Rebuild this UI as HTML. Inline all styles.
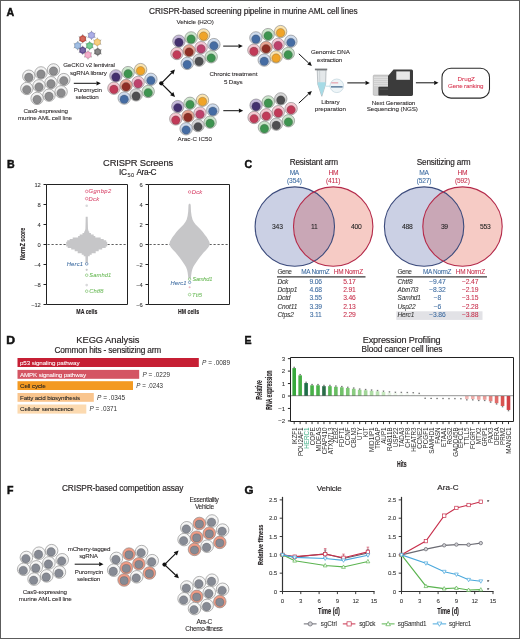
<!DOCTYPE html>
<html><head><meta charset="utf-8"><style>
html,body{margin:0;padding:0;background:#fff;}
body{width:520px;height:639px;overflow:hidden;position:relative;}
svg{position:absolute;left:0;top:0;will-change:transform;font-family:"Liberation Sans",sans-serif;}
</style></head><body>
<svg width="520" height="639" viewBox="0 0 520 639">
<rect x="0" y="0" width="520" height="639" fill="#fff"/>
<text x="6.5" y="15.8" font-size="10.6" fill="#111" font-weight="bold" textLength="7.66" lengthAdjust="spacingAndGlyphs" stroke="#111" stroke-width="0.45">A</text>
<text x="149" y="14" font-size="8.32" fill="#231f20" textLength="208.7" lengthAdjust="spacing" stroke="#231f20" stroke-width="0.15">CRISPR-based screening pipeline in murine AML cell lines</text>
<line x1="91.50" y1="35.30" x2="91.50" y2="30.70" stroke="#666" stroke-width="0.5"/>
<line x1="91.50" y1="35.30" x2="95.48" y2="33.00" stroke="#666" stroke-width="0.5"/>
<line x1="91.50" y1="35.30" x2="95.48" y2="37.60" stroke="#666" stroke-width="0.5"/>
<line x1="91.50" y1="35.30" x2="91.50" y2="39.90" stroke="#666" stroke-width="0.5"/>
<line x1="91.50" y1="35.30" x2="87.52" y2="37.60" stroke="#666" stroke-width="0.5"/>
<line x1="91.50" y1="35.30" x2="87.52" y2="33.00" stroke="#666" stroke-width="0.5"/>
<polygon points="94.70,37.15 91.50,39.00 88.30,37.15 88.30,33.45 91.50,31.60 94.70,33.45" fill="#9a9de0" stroke="#555" stroke-width="0.35" stroke-opacity="0.6"/>
<circle cx="91.50" cy="35.30" r="2.22" fill="#fff" fill-opacity="0.18"/>
<line x1="82.70" y1="38.80" x2="82.70" y2="34.20" stroke="#666" stroke-width="0.5"/>
<line x1="82.70" y1="38.80" x2="86.68" y2="36.50" stroke="#666" stroke-width="0.5"/>
<line x1="82.70" y1="38.80" x2="86.68" y2="41.10" stroke="#666" stroke-width="0.5"/>
<line x1="82.70" y1="38.80" x2="82.70" y2="43.40" stroke="#666" stroke-width="0.5"/>
<line x1="82.70" y1="38.80" x2="78.72" y2="41.10" stroke="#666" stroke-width="0.5"/>
<line x1="82.70" y1="38.80" x2="78.72" y2="36.50" stroke="#666" stroke-width="0.5"/>
<polygon points="85.90,40.65 82.70,42.50 79.50,40.65 79.50,36.95 82.70,35.10 85.90,36.95" fill="#c8483a" stroke="#555" stroke-width="0.35" stroke-opacity="0.6"/>
<circle cx="82.70" cy="38.80" r="2.22" fill="#fff" fill-opacity="0.18"/>
<line x1="97.30" y1="42.20" x2="97.30" y2="37.60" stroke="#666" stroke-width="0.5"/>
<line x1="97.30" y1="42.20" x2="101.28" y2="39.90" stroke="#666" stroke-width="0.5"/>
<line x1="97.30" y1="42.20" x2="101.28" y2="44.50" stroke="#666" stroke-width="0.5"/>
<line x1="97.30" y1="42.20" x2="97.30" y2="46.80" stroke="#666" stroke-width="0.5"/>
<line x1="97.30" y1="42.20" x2="93.32" y2="44.50" stroke="#666" stroke-width="0.5"/>
<line x1="97.30" y1="42.20" x2="93.32" y2="39.90" stroke="#666" stroke-width="0.5"/>
<polygon points="100.50,44.05 97.30,45.90 94.10,44.05 94.10,40.35 97.30,38.50 100.50,40.35" fill="#f5c466" stroke="#555" stroke-width="0.35" stroke-opacity="0.6"/>
<circle cx="97.30" cy="42.20" r="2.22" fill="#fff" fill-opacity="0.18"/>
<line x1="77.70" y1="45.70" x2="77.70" y2="41.10" stroke="#666" stroke-width="0.5"/>
<line x1="77.70" y1="45.70" x2="81.68" y2="43.40" stroke="#666" stroke-width="0.5"/>
<line x1="77.70" y1="45.70" x2="81.68" y2="48.00" stroke="#666" stroke-width="0.5"/>
<line x1="77.70" y1="45.70" x2="77.70" y2="50.30" stroke="#666" stroke-width="0.5"/>
<line x1="77.70" y1="45.70" x2="73.72" y2="48.00" stroke="#666" stroke-width="0.5"/>
<line x1="77.70" y1="45.70" x2="73.72" y2="43.40" stroke="#666" stroke-width="0.5"/>
<polygon points="80.90,47.55 77.70,49.40 74.50,47.55 74.50,43.85 77.70,42.00 80.90,43.85" fill="#8eb0dc" stroke="#555" stroke-width="0.35" stroke-opacity="0.6"/>
<circle cx="77.70" cy="45.70" r="2.22" fill="#fff" fill-opacity="0.18"/>
<line x1="89.60" y1="45.70" x2="89.60" y2="41.10" stroke="#666" stroke-width="0.5"/>
<line x1="89.60" y1="45.70" x2="93.58" y2="43.40" stroke="#666" stroke-width="0.5"/>
<line x1="89.60" y1="45.70" x2="93.58" y2="48.00" stroke="#666" stroke-width="0.5"/>
<line x1="89.60" y1="45.70" x2="89.60" y2="50.30" stroke="#666" stroke-width="0.5"/>
<line x1="89.60" y1="45.70" x2="85.62" y2="48.00" stroke="#666" stroke-width="0.5"/>
<line x1="89.60" y1="45.70" x2="85.62" y2="43.40" stroke="#666" stroke-width="0.5"/>
<polygon points="92.80,47.55 89.60,49.40 86.40,47.55 86.40,43.85 89.60,42.00 92.80,43.85" fill="#5cc07c" stroke="#555" stroke-width="0.35" stroke-opacity="0.6"/>
<circle cx="89.60" cy="45.70" r="2.22" fill="#fff" fill-opacity="0.18"/>
<line x1="97.70" y1="51.80" x2="97.70" y2="47.20" stroke="#666" stroke-width="0.5"/>
<line x1="97.70" y1="51.80" x2="101.68" y2="49.50" stroke="#666" stroke-width="0.5"/>
<line x1="97.70" y1="51.80" x2="101.68" y2="54.10" stroke="#666" stroke-width="0.5"/>
<line x1="97.70" y1="51.80" x2="97.70" y2="56.40" stroke="#666" stroke-width="0.5"/>
<line x1="97.70" y1="51.80" x2="93.72" y2="54.10" stroke="#666" stroke-width="0.5"/>
<line x1="97.70" y1="51.80" x2="93.72" y2="49.50" stroke="#666" stroke-width="0.5"/>
<polygon points="100.90,53.65 97.70,55.50 94.50,53.65 94.50,49.95 97.70,48.10 100.90,49.95" fill="#6e6e6e" stroke="#555" stroke-width="0.35" stroke-opacity="0.6"/>
<circle cx="97.70" cy="51.80" r="2.22" fill="#fff" fill-opacity="0.18"/>
<line x1="82.70" y1="50.30" x2="82.70" y2="45.70" stroke="#666" stroke-width="0.5"/>
<line x1="82.70" y1="50.30" x2="86.68" y2="48.00" stroke="#666" stroke-width="0.5"/>
<line x1="82.70" y1="50.30" x2="86.68" y2="52.60" stroke="#666" stroke-width="0.5"/>
<line x1="82.70" y1="50.30" x2="82.70" y2="54.90" stroke="#666" stroke-width="0.5"/>
<line x1="82.70" y1="50.30" x2="78.72" y2="52.60" stroke="#666" stroke-width="0.5"/>
<line x1="82.70" y1="50.30" x2="78.72" y2="48.00" stroke="#666" stroke-width="0.5"/>
<polygon points="85.90,52.15 82.70,54.00 79.50,52.15 79.50,48.45 82.70,46.60 85.90,48.45" fill="#5a4590" stroke="#555" stroke-width="0.35" stroke-opacity="0.6"/>
<circle cx="82.70" cy="50.30" r="2.22" fill="#fff" fill-opacity="0.18"/>
<line x1="88.00" y1="54.90" x2="88.00" y2="50.30" stroke="#666" stroke-width="0.5"/>
<line x1="88.00" y1="54.90" x2="91.98" y2="52.60" stroke="#666" stroke-width="0.5"/>
<line x1="88.00" y1="54.90" x2="91.98" y2="57.20" stroke="#666" stroke-width="0.5"/>
<line x1="88.00" y1="54.90" x2="88.00" y2="59.50" stroke="#666" stroke-width="0.5"/>
<line x1="88.00" y1="54.90" x2="84.02" y2="57.20" stroke="#666" stroke-width="0.5"/>
<line x1="88.00" y1="54.90" x2="84.02" y2="52.60" stroke="#666" stroke-width="0.5"/>
<polygon points="91.20,56.75 88.00,58.60 84.80,56.75 84.80,53.05 88.00,51.20 91.20,53.05" fill="#ef9ec0" stroke="#555" stroke-width="0.35" stroke-opacity="0.6"/>
<circle cx="88.00" cy="54.90" r="2.22" fill="#fff" fill-opacity="0.18"/>
<text x="63.3" y="67.4" font-size="6.24" fill="#231f20" textLength="51.6" lengthAdjust="spacing" stroke="#231f20" stroke-width="0.07">GeCKO v2 lentiviral</text>
<text x="70" y="74.6" font-size="6.24" fill="#231f20" textLength="36.8" lengthAdjust="spacing" stroke="#231f20" stroke-width="0.07">sgRNA library</text>
<circle cx="28.80" cy="76.20" r="6.2" fill="#f2f2f2" stroke="#808080" stroke-width="0.6"/>
<circle cx="28.80" cy="77.40" r="4.3" fill="#8c8c8e" stroke="#444" stroke-width="0.5" stroke-opacity="0.55"/>
<circle cx="41.00" cy="72.90" r="6.2" fill="#f2f2f2" stroke="#808080" stroke-width="0.6"/>
<circle cx="41.00" cy="74.10" r="4.3" fill="#8c8c8e" stroke="#444" stroke-width="0.5" stroke-opacity="0.55"/>
<circle cx="53.50" cy="69.90" r="6.2" fill="#f2f2f2" stroke="#808080" stroke-width="0.6"/>
<circle cx="53.50" cy="71.10" r="4.3" fill="#8c8c8e" stroke="#444" stroke-width="0.5" stroke-opacity="0.55"/>
<circle cx="63.80" cy="79.60" r="6.2" fill="#f2f2f2" stroke="#808080" stroke-width="0.6"/>
<circle cx="63.80" cy="80.80" r="4.3" fill="#8c8c8e" stroke="#444" stroke-width="0.5" stroke-opacity="0.55"/>
<circle cx="51.00" cy="82.70" r="6.2" fill="#f2f2f2" stroke="#808080" stroke-width="0.6"/>
<circle cx="51.00" cy="83.90" r="4.3" fill="#8c8c8e" stroke="#444" stroke-width="0.5" stroke-opacity="0.55"/>
<circle cx="39.00" cy="85.80" r="6.2" fill="#f2f2f2" stroke="#808080" stroke-width="0.6"/>
<circle cx="39.00" cy="87.00" r="4.3" fill="#8c8c8e" stroke="#444" stroke-width="0.5" stroke-opacity="0.55"/>
<circle cx="26.80" cy="88.50" r="6.2" fill="#f2f2f2" stroke="#808080" stroke-width="0.6"/>
<circle cx="26.80" cy="89.70" r="4.3" fill="#8c8c8e" stroke="#444" stroke-width="0.5" stroke-opacity="0.55"/>
<circle cx="61.10" cy="91.80" r="6.2" fill="#f2f2f2" stroke="#808080" stroke-width="0.6"/>
<circle cx="61.10" cy="93.00" r="4.3" fill="#8c8c8e" stroke="#444" stroke-width="0.5" stroke-opacity="0.55"/>
<circle cx="49.00" cy="95.20" r="6.2" fill="#f2f2f2" stroke="#808080" stroke-width="0.6"/>
<circle cx="49.00" cy="96.40" r="4.3" fill="#8c8c8e" stroke="#444" stroke-width="0.5" stroke-opacity="0.55"/>
<circle cx="37.10" cy="98.40" r="6.2" fill="#f2f2f2" stroke="#808080" stroke-width="0.6"/>
<circle cx="37.10" cy="99.60" r="4.3" fill="#8c8c8e" stroke="#444" stroke-width="0.5" stroke-opacity="0.55"/>
<text x="23.5" y="112.5" font-size="6.24" fill="#231f20" textLength="44.4" lengthAdjust="spacing" stroke="#231f20" stroke-width="0.07">Cas9-expressing</text>
<text x="18" y="119.8" font-size="6.24" fill="#231f20" textLength="54" lengthAdjust="spacing" stroke="#231f20" stroke-width="0.07">murine AML cell line</text>
<line x1="73.8" y1="83.3" x2="96.50" y2="83.30" stroke="#111" stroke-width="1.0"/>
<path d="M100.80,83.30 L96.50,85.40 L96.50,81.20Z" fill="#111"/>
<text x="73.8" y="91.6" font-size="6.24" fill="#231f20" textLength="28.2" lengthAdjust="spacing" stroke="#231f20" stroke-width="0.07">Puromycin</text>
<text x="75.5" y="98.6" font-size="6.24" fill="#231f20" textLength="23.2" lengthAdjust="spacing" stroke="#231f20" stroke-width="0.07">selection</text>
<circle cx="115.90" cy="75.90" r="6.2" fill="#c6b9da" stroke="#808080" stroke-width="0.6"/>
<circle cx="115.90" cy="77.10" r="4.3" fill="#44306f" stroke="#444" stroke-width="0.5" stroke-opacity="0.55"/>
<circle cx="128.10" cy="72.60" r="6.2" fill="#cce6cc" stroke="#808080" stroke-width="0.6"/>
<circle cx="128.10" cy="73.80" r="4.3" fill="#3e9450" stroke="#444" stroke-width="0.5" stroke-opacity="0.55"/>
<circle cx="140.60" cy="69.60" r="6.2" fill="#fbe4b0" stroke="#808080" stroke-width="0.6"/>
<circle cx="140.60" cy="70.80" r="4.3" fill="#f0a428" stroke="#444" stroke-width="0.5" stroke-opacity="0.55"/>
<circle cx="150.90" cy="79.30" r="6.2" fill="#cfdcee" stroke="#808080" stroke-width="0.6"/>
<circle cx="150.90" cy="80.50" r="4.3" fill="#456ca3" stroke="#444" stroke-width="0.5" stroke-opacity="0.55"/>
<circle cx="138.10" cy="82.40" r="6.2" fill="#f4c8d6" stroke="#808080" stroke-width="0.6"/>
<circle cx="138.10" cy="83.60" r="4.3" fill="#bd426c" stroke="#444" stroke-width="0.5" stroke-opacity="0.55"/>
<circle cx="126.10" cy="85.50" r="6.2" fill="#e8a594" stroke="#808080" stroke-width="0.6"/>
<circle cx="126.10" cy="86.70" r="4.3" fill="#8f2e25" stroke="#444" stroke-width="0.5" stroke-opacity="0.55"/>
<circle cx="113.90" cy="88.20" r="6.2" fill="#f5c9d2" stroke="#808080" stroke-width="0.6"/>
<circle cx="113.90" cy="89.40" r="4.3" fill="#c13a58" stroke="#444" stroke-width="0.5" stroke-opacity="0.55"/>
<circle cx="148.20" cy="91.50" r="6.2" fill="#cce6cc" stroke="#808080" stroke-width="0.6"/>
<circle cx="148.20" cy="92.70" r="4.3" fill="#3e9450" stroke="#444" stroke-width="0.5" stroke-opacity="0.55"/>
<circle cx="136.10" cy="94.90" r="6.2" fill="#d6d6d6" stroke="#808080" stroke-width="0.6"/>
<circle cx="136.10" cy="96.10" r="4.3" fill="#4e4e50" stroke="#444" stroke-width="0.5" stroke-opacity="0.55"/>
<circle cx="124.20" cy="98.10" r="6.2" fill="#cfdcee" stroke="#808080" stroke-width="0.6"/>
<circle cx="124.20" cy="99.30" r="4.3" fill="#456ca3" stroke="#444" stroke-width="0.5" stroke-opacity="0.55"/>
<circle cx="161.3" cy="83.3" r="2.1" fill="#111"/>
<line x1="161.3" y1="83.3" x2="171.76" y2="72.76" stroke="#111" stroke-width="1.15"/>
<path d="M175.00,69.50 L173.39,74.38 L170.13,71.14Z" fill="#111"/>
<line x1="161.3" y1="83.3" x2="171.75" y2="93.75" stroke="#111" stroke-width="1.15"/>
<path d="M175.00,97.00 L170.12,95.37 L173.37,92.12Z" fill="#111"/>
<text x="176.5" y="23.5" font-size="6.24" fill="#231f20" textLength="37.4" lengthAdjust="spacing" stroke="#231f20" stroke-width="0.07">Vehicle (H2O)</text>
<circle cx="178.90" cy="41.20" r="6.2" fill="#c6b9da" stroke="#808080" stroke-width="0.6"/>
<circle cx="178.90" cy="42.40" r="4.3" fill="#44306f" stroke="#444" stroke-width="0.5" stroke-opacity="0.55"/>
<circle cx="191.10" cy="37.90" r="6.2" fill="#cce6cc" stroke="#808080" stroke-width="0.6"/>
<circle cx="191.10" cy="39.10" r="4.3" fill="#3e9450" stroke="#444" stroke-width="0.5" stroke-opacity="0.55"/>
<circle cx="203.60" cy="34.90" r="6.2" fill="#fbe4b0" stroke="#808080" stroke-width="0.6"/>
<circle cx="203.60" cy="36.10" r="4.3" fill="#f0a428" stroke="#444" stroke-width="0.5" stroke-opacity="0.55"/>
<circle cx="213.90" cy="44.60" r="6.2" fill="#cfdcee" stroke="#808080" stroke-width="0.6"/>
<circle cx="213.90" cy="45.80" r="4.3" fill="#456ca3" stroke="#444" stroke-width="0.5" stroke-opacity="0.55"/>
<circle cx="201.10" cy="47.70" r="6.2" fill="#f4c8d6" stroke="#808080" stroke-width="0.6"/>
<circle cx="201.10" cy="48.90" r="4.3" fill="#bd426c" stroke="#444" stroke-width="0.5" stroke-opacity="0.55"/>
<circle cx="189.10" cy="50.80" r="6.2" fill="#e8a594" stroke="#808080" stroke-width="0.6"/>
<circle cx="189.10" cy="52.00" r="4.3" fill="#8f2e25" stroke="#444" stroke-width="0.5" stroke-opacity="0.55"/>
<circle cx="176.90" cy="53.50" r="6.2" fill="#f5c9d2" stroke="#808080" stroke-width="0.6"/>
<circle cx="176.90" cy="54.70" r="4.3" fill="#c13a58" stroke="#444" stroke-width="0.5" stroke-opacity="0.55"/>
<circle cx="211.20" cy="56.80" r="6.2" fill="#cce6cc" stroke="#808080" stroke-width="0.6"/>
<circle cx="211.20" cy="58.00" r="4.3" fill="#3e9450" stroke="#444" stroke-width="0.5" stroke-opacity="0.55"/>
<circle cx="199.10" cy="60.20" r="6.2" fill="#d6d6d6" stroke="#808080" stroke-width="0.6"/>
<circle cx="199.10" cy="61.40" r="4.3" fill="#4e4e50" stroke="#444" stroke-width="0.5" stroke-opacity="0.55"/>
<circle cx="187.20" cy="63.40" r="6.2" fill="#cfdcee" stroke="#808080" stroke-width="0.6"/>
<circle cx="187.20" cy="64.60" r="4.3" fill="#456ca3" stroke="#444" stroke-width="0.5" stroke-opacity="0.55"/>
<circle cx="177.80" cy="106.60" r="6.2" fill="#c6b9da" stroke="#808080" stroke-width="0.6"/>
<circle cx="177.80" cy="107.80" r="4.3" fill="#44306f" stroke="#444" stroke-width="0.5" stroke-opacity="0.55"/>
<circle cx="190.00" cy="103.30" r="6.2" fill="#cce6cc" stroke="#808080" stroke-width="0.6"/>
<circle cx="190.00" cy="104.50" r="4.3" fill="#3e9450" stroke="#444" stroke-width="0.5" stroke-opacity="0.55"/>
<circle cx="202.50" cy="100.30" r="6.2" fill="#fbe4b0" stroke="#808080" stroke-width="0.6"/>
<circle cx="202.50" cy="101.50" r="4.3" fill="#f0a428" stroke="#444" stroke-width="0.5" stroke-opacity="0.55"/>
<circle cx="212.80" cy="110.00" r="6.2" fill="#cfdcee" stroke="#808080" stroke-width="0.6"/>
<circle cx="212.80" cy="111.20" r="4.3" fill="#456ca3" stroke="#444" stroke-width="0.5" stroke-opacity="0.55"/>
<circle cx="200.00" cy="113.10" r="6.2" fill="#f4c8d6" stroke="#808080" stroke-width="0.6"/>
<circle cx="200.00" cy="114.30" r="4.3" fill="#bd426c" stroke="#444" stroke-width="0.5" stroke-opacity="0.55"/>
<circle cx="188.00" cy="116.20" r="6.2" fill="#e8a594" stroke="#808080" stroke-width="0.6"/>
<circle cx="188.00" cy="117.40" r="4.3" fill="#8f2e25" stroke="#444" stroke-width="0.5" stroke-opacity="0.55"/>
<circle cx="175.80" cy="118.90" r="6.2" fill="#f5c9d2" stroke="#808080" stroke-width="0.6"/>
<circle cx="175.80" cy="120.10" r="4.3" fill="#c13a58" stroke="#444" stroke-width="0.5" stroke-opacity="0.55"/>
<circle cx="210.10" cy="122.20" r="6.2" fill="#cce6cc" stroke="#808080" stroke-width="0.6"/>
<circle cx="210.10" cy="123.40" r="4.3" fill="#3e9450" stroke="#444" stroke-width="0.5" stroke-opacity="0.55"/>
<circle cx="198.00" cy="125.60" r="6.2" fill="#d6d6d6" stroke="#808080" stroke-width="0.6"/>
<circle cx="198.00" cy="126.80" r="4.3" fill="#4e4e50" stroke="#444" stroke-width="0.5" stroke-opacity="0.55"/>
<circle cx="186.10" cy="128.80" r="6.2" fill="#cfdcee" stroke="#808080" stroke-width="0.6"/>
<circle cx="186.10" cy="130.00" r="4.3" fill="#456ca3" stroke="#444" stroke-width="0.5" stroke-opacity="0.55"/>
<text x="177.5" y="141.3" font-size="6.24" fill="#231f20" textLength="34.5" lengthAdjust="spacing" stroke="#231f20" stroke-width="0.07">Arac-C IC50</text>
<line x1="223.2" y1="46.1" x2="238.50" y2="46.10" stroke="#111" stroke-width="1.0"/>
<path d="M242.80,46.10 L238.50,48.20 L238.50,44.00Z" fill="#111"/>
<line x1="223.3" y1="110.7" x2="238.90" y2="110.70" stroke="#111" stroke-width="1.0"/>
<path d="M243.20,110.70 L238.90,112.80 L238.90,108.60Z" fill="#111"/>
<text x="209.4" y="76.2" font-size="6.24" fill="#231f20" textLength="48" lengthAdjust="spacing" stroke="#231f20" stroke-width="0.07">Chronic treatment</text>
<text x="224" y="83.7" font-size="6.24" fill="#231f20" textLength="18.6" lengthAdjust="spacing" stroke="#231f20" stroke-width="0.07">5 Days</text>
<circle cx="255.90" cy="37.90" r="6.2" fill="#cfdcee" stroke="#808080" stroke-width="0.6"/>
<circle cx="255.90" cy="39.10" r="4.3" fill="#456ca3" stroke="#444" stroke-width="0.5" stroke-opacity="0.55"/>
<circle cx="268.10" cy="34.60" r="6.2" fill="#cce6cc" stroke="#808080" stroke-width="0.6"/>
<circle cx="268.10" cy="35.80" r="4.3" fill="#3e9450" stroke="#444" stroke-width="0.5" stroke-opacity="0.55"/>
<circle cx="280.60" cy="31.60" r="6.2" fill="#fbe4b0" stroke="#808080" stroke-width="0.6"/>
<circle cx="280.60" cy="32.80" r="4.3" fill="#f0a428" stroke="#444" stroke-width="0.5" stroke-opacity="0.55"/>
<circle cx="290.90" cy="41.30" r="6.2" fill="#cfdcee" stroke="#808080" stroke-width="0.6"/>
<circle cx="290.90" cy="42.50" r="4.3" fill="#456ca3" stroke="#444" stroke-width="0.5" stroke-opacity="0.55"/>
<circle cx="278.10" cy="44.40" r="6.2" fill="#f4c8d6" stroke="#808080" stroke-width="0.6"/>
<circle cx="278.10" cy="45.60" r="4.3" fill="#bd426c" stroke="#444" stroke-width="0.5" stroke-opacity="0.55"/>
<circle cx="266.10" cy="47.50" r="6.2" fill="#e8a594" stroke="#808080" stroke-width="0.6"/>
<circle cx="266.10" cy="48.70" r="4.3" fill="#8f2e25" stroke="#444" stroke-width="0.5" stroke-opacity="0.55"/>
<circle cx="253.90" cy="50.20" r="6.2" fill="#f5c9d2" stroke="#808080" stroke-width="0.6"/>
<circle cx="253.90" cy="51.40" r="4.3" fill="#c13a58" stroke="#444" stroke-width="0.5" stroke-opacity="0.55"/>
<circle cx="288.20" cy="53.50" r="6.2" fill="#cce6cc" stroke="#808080" stroke-width="0.6"/>
<circle cx="288.20" cy="54.70" r="4.3" fill="#3e9450" stroke="#444" stroke-width="0.5" stroke-opacity="0.55"/>
<circle cx="276.10" cy="56.90" r="6.2" fill="#fbe4b0" stroke="#808080" stroke-width="0.6"/>
<circle cx="276.10" cy="58.10" r="4.3" fill="#f0a428" stroke="#444" stroke-width="0.5" stroke-opacity="0.55"/>
<circle cx="264.20" cy="60.10" r="6.2" fill="#cfdcee" stroke="#808080" stroke-width="0.6"/>
<circle cx="264.20" cy="61.30" r="4.3" fill="#456ca3" stroke="#444" stroke-width="0.5" stroke-opacity="0.55"/>
<circle cx="256.10" cy="105.20" r="6.2" fill="#c6b9da" stroke="#808080" stroke-width="0.6"/>
<circle cx="256.10" cy="106.40" r="4.3" fill="#44306f" stroke="#444" stroke-width="0.5" stroke-opacity="0.55"/>
<circle cx="268.30" cy="101.90" r="6.2" fill="#cce6cc" stroke="#808080" stroke-width="0.6"/>
<circle cx="268.30" cy="103.10" r="4.3" fill="#3e9450" stroke="#444" stroke-width="0.5" stroke-opacity="0.55"/>
<circle cx="280.80" cy="98.90" r="6.2" fill="#d6d6d6" stroke="#808080" stroke-width="0.6"/>
<circle cx="280.80" cy="100.10" r="4.3" fill="#4e4e50" stroke="#444" stroke-width="0.5" stroke-opacity="0.55"/>
<circle cx="291.10" cy="108.60" r="6.2" fill="#f5c9d2" stroke="#808080" stroke-width="0.6"/>
<circle cx="291.10" cy="109.80" r="4.3" fill="#c13a58" stroke="#444" stroke-width="0.5" stroke-opacity="0.55"/>
<circle cx="278.30" cy="111.70" r="6.2" fill="#f5c9d2" stroke="#808080" stroke-width="0.6"/>
<circle cx="278.30" cy="112.90" r="4.3" fill="#c13a58" stroke="#444" stroke-width="0.5" stroke-opacity="0.55"/>
<circle cx="266.30" cy="114.80" r="6.2" fill="#f5c9d2" stroke="#808080" stroke-width="0.6"/>
<circle cx="266.30" cy="116.00" r="4.3" fill="#c13a58" stroke="#444" stroke-width="0.5" stroke-opacity="0.55"/>
<circle cx="254.10" cy="117.50" r="6.2" fill="#f5c9d2" stroke="#808080" stroke-width="0.6"/>
<circle cx="254.10" cy="118.70" r="4.3" fill="#c13a58" stroke="#444" stroke-width="0.5" stroke-opacity="0.55"/>
<circle cx="288.40" cy="120.80" r="6.2" fill="#cce6cc" stroke="#808080" stroke-width="0.6"/>
<circle cx="288.40" cy="122.00" r="4.3" fill="#3e9450" stroke="#444" stroke-width="0.5" stroke-opacity="0.55"/>
<circle cx="276.30" cy="124.20" r="6.2" fill="#d6d6d6" stroke="#808080" stroke-width="0.6"/>
<circle cx="276.30" cy="125.40" r="4.3" fill="#4e4e50" stroke="#444" stroke-width="0.5" stroke-opacity="0.55"/>
<circle cx="264.40" cy="127.40" r="6.2" fill="#cce6cc" stroke="#808080" stroke-width="0.6"/>
<circle cx="264.40" cy="128.60" r="4.3" fill="#3e9450" stroke="#444" stroke-width="0.5" stroke-opacity="0.55"/>
<line x1="298.8" y1="53.8" x2="308.66" y2="63.06" stroke="#111" stroke-width="1.0"/>
<path d="M311.80,66.00 L307.23,64.59 L310.10,61.53Z" fill="#111"/>
<line x1="298.8" y1="103.1" x2="308.65" y2="93.93" stroke="#111" stroke-width="1.0"/>
<path d="M311.80,91.00 L310.08,95.47 L307.22,92.39Z" fill="#111"/>
<text x="311" y="54.2" font-size="6.24" fill="#231f20" textLength="38.9" lengthAdjust="spacing" stroke="#231f20" stroke-width="0.07">Genomic DNA</text>
<text x="317" y="61.6" font-size="6.24" fill="#231f20" textLength="25.1" lengthAdjust="spacing" stroke="#231f20" stroke-width="0.07">extraction</text>
<path d="M317.2,70 L326.1,70 L325.6,84.3 L321.8,96.3 L317.8,84.3 Z" fill="#e4e8ea" stroke="#8e979c" stroke-width="0.55"/>
<line x1="319.6" y1="71" x2="319.8" y2="84" stroke="#b5bcc0" stroke-width="0.5"/>
<path d="M317.75,82.2 L325.65,82.2 L325.6,84.3 L321.8,96.0 L317.8,84.3 Z" fill="#a6dbe6"/>
<rect x="314.9" y="68.6" width="12.3" height="1.7" fill="#77797b"/>
<line x1="325.8" y1="86.2" x2="330.2" y2="86.2" stroke="#b0d6e2" stroke-width="0.8"/>
<circle cx="336.8" cy="85.8" r="6.8" fill="#eef5f8" stroke="#b6ccd6" stroke-width="0.6"/>
<rect x="331.2" y="82.3" width="7" height="1.1" fill="#e59aa6"/>
<rect x="331.0" y="86.1" width="11.6" height="1.5" fill="#5d7e9e"/>
<text x="321.3" y="104.4" font-size="6.24" fill="#231f20" textLength="18.2" lengthAdjust="spacing" stroke="#231f20" stroke-width="0.07">Library</text>
<text x="314.8" y="111.3" font-size="6.24" fill="#231f20" textLength="31.1" lengthAdjust="spacing" stroke="#231f20" stroke-width="0.07">preparation</text>
<line x1="347.3" y1="82.9" x2="365.50" y2="82.90" stroke="#111" stroke-width="1.0"/>
<path d="M369.80,82.90 L365.50,85.00 L365.50,80.80Z" fill="#111"/>
<rect x="373.2" y="75" width="19.8" height="20.4" rx="1.2" fill="#cfcfcf" stroke="#9a9a9a" stroke-width="0.4"/>
<line x1="374" y1="77.5" x2="392" y2="77.5" stroke="#e8e8e8" stroke-width="0.6"/>
<line x1="374" y1="79.5" x2="392" y2="79.5" stroke="#e8e8e8" stroke-width="0.6"/>
<line x1="374" y1="81.5" x2="392" y2="81.5" stroke="#e8e8e8" stroke-width="0.6"/>
<line x1="374" y1="83.5" x2="392" y2="83.5" stroke="#e8e8e8" stroke-width="0.6"/>
<line x1="374" y1="85.5" x2="392" y2="85.5" stroke="#e8e8e8" stroke-width="0.6"/>
<rect x="378.4" y="86.8" width="12" height="8.8" rx="0.8" fill="#3b3b3b"/>
<rect x="380" y="88.6" width="9" height="1" fill="#555"/>
<path d="M388,76 L393.5,69.5 L411.5,69.5 Q413,69.5 413,71 L413,94.6 Q413,96 411.5,96 L389,96 Q388,96 388,95 Z" fill="#3b3b3b"/>
<rect x="396.3" y="71.4" width="13.6" height="8.4" fill="#e6e6e6"/>
<text x="371.8" y="104.8" font-size="6.24" fill="#231f20" textLength="43.4" lengthAdjust="spacing" stroke="#231f20" stroke-width="0.07">Next Generation</text>
<text x="366.7" y="110.9" font-size="6.24" fill="#231f20" textLength="51.2" lengthAdjust="spacing" stroke="#231f20" stroke-width="0.07">Sequencing (NGS)</text>
<line x1="415.9" y1="82.8" x2="434.20" y2="82.80" stroke="#111" stroke-width="1.0"/>
<path d="M438.50,82.80 L434.20,84.90 L434.20,80.70Z" fill="#111"/>
<rect x="442" y="68.3" width="47.5" height="29.8" rx="9" fill="#fff" stroke="#2a2a2a" stroke-width="1.05"/>
<text x="457.6" y="81" font-size="6.24" fill="#d8344f" textLength="17.3" lengthAdjust="spacing" stroke="#d8344f" stroke-width="0.07">DrugZ</text>
<text x="448" y="87.9" font-size="6.24" fill="#d8344f" textLength="35.5" lengthAdjust="spacing" stroke="#d8344f" stroke-width="0.07">Gene ranking</text>
<text x="6.9" y="167.9" font-size="10.6" fill="#111" font-weight="bold" textLength="7.66" lengthAdjust="spacingAndGlyphs" stroke="#111" stroke-width="0.45">B</text>
<text x="103.1" y="165.8" font-size="9.36" fill="#231f20" textLength="70" lengthAdjust="spacing" stroke="#231f20" stroke-width="0.15">CRISPR Screens</text>
<text x="119.0" y="175.1" font-size="8.32" fill="#231f20" textLength="8.0" lengthAdjust="spacing" stroke="#231f20" stroke-width="0.15">IC</text>
<text x="127.4" y="176.9" font-size="5.62" fill="#231f20" textLength="6.6" lengthAdjust="spacing" stroke="#231f20" stroke-width="0.07">50</text>
<text x="136.4" y="175.1" font-size="8.32" fill="#231f20" textLength="20.2" lengthAdjust="spacing" stroke="#231f20" stroke-width="0.15">Ara-C</text>
<path d="M46.5,184.5 L127.5,184.5 L127.5,304.5 L46.5,304.5 Z" fill="none" stroke="#222" stroke-width="1"/>
<line x1="47.5" y1="244.5" x2="126.5" y2="244.5" stroke="#333" stroke-width="0.8" stroke-dasharray="2.2,1.8"/>
<line x1="43.5" y1="184.50" x2="46.5" y2="184.50" stroke="#222" stroke-width="1"/>
<text x="40.7" y="186.5" font-size="5.82" fill="#333" text-anchor="end" textLength="6.23" lengthAdjust="spacing" stroke="#333" stroke-width="0.07">12</text>
<line x1="43.5" y1="204.50" x2="46.5" y2="204.50" stroke="#222" stroke-width="1"/>
<text x="40.7" y="206.5" font-size="5.82" fill="#333" text-anchor="end" textLength="3.11" lengthAdjust="spacing" stroke="#333" stroke-width="0.07">8</text>
<line x1="43.5" y1="224.50" x2="46.5" y2="224.50" stroke="#222" stroke-width="1"/>
<text x="40.7" y="226.5" font-size="5.82" fill="#333" text-anchor="end" textLength="3.11" lengthAdjust="spacing" stroke="#333" stroke-width="0.07">4</text>
<line x1="43.5" y1="244.50" x2="46.5" y2="244.50" stroke="#222" stroke-width="1"/>
<text x="40.7" y="246.5" font-size="5.82" fill="#333" text-anchor="end" textLength="3.11" lengthAdjust="spacing" stroke="#333" stroke-width="0.07">0</text>
<line x1="43.5" y1="264.50" x2="46.5" y2="264.50" stroke="#222" stroke-width="1"/>
<text x="40.7" y="266.5" font-size="5.82" fill="#333" text-anchor="end" textLength="6.38" lengthAdjust="spacing" stroke="#333" stroke-width="0.07">−4</text>
<line x1="43.5" y1="284.50" x2="46.5" y2="284.50" stroke="#222" stroke-width="1"/>
<text x="40.7" y="286.5" font-size="5.82" fill="#333" text-anchor="end" textLength="6.38" lengthAdjust="spacing" stroke="#333" stroke-width="0.07">−8</text>
<line x1="43.5" y1="304.50" x2="46.5" y2="304.50" stroke="#222" stroke-width="1"/>
<text x="40.7" y="306.5" font-size="5.82" fill="#333" text-anchor="end" textLength="9.5" lengthAdjust="spacing" stroke="#333" stroke-width="0.07">−12</text>
<path d="M148.5,184.5 L229.5,184.5 L229.5,304.5 L148.5,304.5 Z" fill="none" stroke="#222" stroke-width="1"/>
<line x1="149.5" y1="244.5" x2="228.5" y2="244.5" stroke="#333" stroke-width="0.8" stroke-dasharray="2.2,1.8"/>
<line x1="145.5" y1="184.50" x2="148.5" y2="184.50" stroke="#222" stroke-width="1"/>
<text x="142.7" y="186.5" font-size="5.82" fill="#333" text-anchor="end" textLength="3.11" lengthAdjust="spacing" stroke="#333" stroke-width="0.07">6</text>
<line x1="145.5" y1="204.50" x2="148.5" y2="204.50" stroke="#222" stroke-width="1"/>
<text x="142.7" y="206.5" font-size="5.82" fill="#333" text-anchor="end" textLength="3.11" lengthAdjust="spacing" stroke="#333" stroke-width="0.07">4</text>
<line x1="145.5" y1="224.50" x2="148.5" y2="224.50" stroke="#222" stroke-width="1"/>
<text x="142.7" y="226.5" font-size="5.82" fill="#333" text-anchor="end" textLength="3.11" lengthAdjust="spacing" stroke="#333" stroke-width="0.07">2</text>
<line x1="145.5" y1="244.50" x2="148.5" y2="244.50" stroke="#222" stroke-width="1"/>
<text x="142.7" y="246.5" font-size="5.82" fill="#333" text-anchor="end" textLength="3.11" lengthAdjust="spacing" stroke="#333" stroke-width="0.07">0</text>
<line x1="145.5" y1="264.50" x2="148.5" y2="264.50" stroke="#222" stroke-width="1"/>
<text x="142.7" y="266.5" font-size="5.82" fill="#333" text-anchor="end" textLength="6.38" lengthAdjust="spacing" stroke="#333" stroke-width="0.07">−2</text>
<line x1="145.5" y1="284.50" x2="148.5" y2="284.50" stroke="#222" stroke-width="1"/>
<text x="142.7" y="286.5" font-size="5.82" fill="#333" text-anchor="end" textLength="6.38" lengthAdjust="spacing" stroke="#333" stroke-width="0.07">−4</text>
<line x1="145.5" y1="304.50" x2="148.5" y2="304.50" stroke="#222" stroke-width="1"/>
<text x="142.7" y="306.5" font-size="5.82" fill="#333" text-anchor="end" textLength="6.38" lengthAdjust="spacing" stroke="#333" stroke-width="0.07">−6</text>
<path d="M87.70,216.70 L87.80,222.00 L88.00,229.00 L88.70,231.50 L89.30,231.50 L89.30,233.00 L90.90,233.00 L90.90,234.50 L93.70,234.50 L93.70,236.00 L95.30,236.00 L95.30,237.50 L100.70,237.50 L100.70,239.00 L103.70,239.00 L103.70,240.30 L106.20,240.30 L106.20,241.80 L107.20,241.80 L107.20,246.50 L105.70,246.50 L105.70,248.00 L102.20,248.00 L102.20,249.50 L98.70,249.50 L98.70,251.30 L95.70,251.30 L95.70,253.20 L91.70,253.20 L91.70,254.80 L89.70,254.80 L89.70,256.30 L88.00,256.30 L87.90,262.00 L87.70,265.00 L85.70,265.00 L85.50,262.00 L85.40,256.30 L83.70,256.30 L83.70,254.80 L81.70,254.80 L81.70,253.20 L77.70,253.20 L77.70,251.30 L74.70,251.30 L74.70,249.50 L71.20,249.50 L71.20,248.00 L67.70,248.00 L67.70,246.50 L66.20,246.50 L66.20,241.80 L67.20,241.80 L67.20,240.30 L69.70,240.30 L69.70,239.00 L72.70,239.00 L72.70,237.50 L78.10,237.50 L78.10,236.00 L79.70,236.00 L79.70,234.50 L82.50,234.50 L82.50,233.00 L84.10,233.00 L84.10,231.50 L84.70,231.50 L85.40,229.00 L85.60,222.00 L85.70,216.70Z" fill="#c6c6c8"/>
<path d="M190.20,203.80 L190.70,205.00 L191.00,211.40 L191.60,216.00 L192.60,219.70 L193.80,222.00 L195.60,224.60 L198.10,227.00 L200.60,229.50 L202.80,232.00 L204.60,234.50 L206.60,237.00 L208.10,239.40 L209.20,241.50 L209.80,243.50 L209.40,245.50 L208.20,247.60 L206.10,250.00 L203.60,252.50 L201.60,255.00 L199.60,257.50 L197.80,260.00 L196.10,262.40 L194.40,265.00 L193.10,267.30 L192.10,270.00 L191.60,272.30 L191.10,276.00 L190.90,278.80 L190.40,280.00 L188.80,280.00 L188.30,278.80 L188.10,276.00 L187.60,272.30 L187.10,270.00 L186.10,267.30 L184.80,265.00 L183.10,262.40 L181.40,260.00 L179.60,257.50 L177.60,255.00 L175.60,252.50 L173.10,250.00 L171.00,247.60 L169.80,245.50 L169.40,243.50 L170.00,241.50 L171.10,239.40 L172.60,237.00 L174.60,234.50 L176.40,232.00 L178.60,229.50 L181.10,227.00 L183.60,224.60 L185.40,222.00 L186.60,219.70 L187.60,216.00 L188.20,211.40 L188.50,205.00 L189.00,203.80Z" fill="#c6c6c8"/>
<circle cx="86.7" cy="205.8" r="1.3" fill="#d9d9db"/>
<circle cx="86.7" cy="269.8" r="1.1" fill="#c6c6c8"/>
<circle cx="86.7" cy="285.1" r="1.3" fill="#d9d9db"/>
<circle cx="86.7" cy="191.4" r="1.3" fill="#fff" stroke="#d8456a" stroke-width="0.6"/>
<circle cx="86.7" cy="198.6" r="1.3" fill="#fff" stroke="#d8456a" stroke-width="0.6"/>
<circle cx="86.7" cy="263.9" r="1.3" fill="#fff" stroke="#3b6aa0" stroke-width="0.6"/>
<circle cx="86.7" cy="275.2" r="1.3" fill="#fff" stroke="#6dbb5a" stroke-width="0.6"/>
<circle cx="86.7" cy="291.2" r="1.3" fill="#fff" stroke="#6dbb5a" stroke-width="0.6"/>
<text x="88.6" y="193.4" font-size="5.82" fill="#d8456a" font-style="italic" textLength="22.6" lengthAdjust="spacing" stroke="#d8456a" stroke-width="0.07">Ggnbp2</text>
<text x="88.6" y="200.6" font-size="5.82" fill="#d8456a" font-style="italic" textLength="10.5" lengthAdjust="spacing" stroke="#d8456a" stroke-width="0.07">Dck</text>
<text x="66.7" y="265.9" font-size="5.82" fill="#3b6aa0" font-style="italic" textLength="16.4" lengthAdjust="spacing" stroke="#3b6aa0" stroke-width="0.07">Herc1</text>
<text x="89.3" y="277.2" font-size="5.82" fill="#6dbb5a" font-style="italic" textLength="21.9" lengthAdjust="spacing" stroke="#6dbb5a" stroke-width="0.07">Samhd1</text>
<text x="89.3" y="293.2" font-size="5.82" fill="#6dbb5a" font-style="italic" textLength="14.2" lengthAdjust="spacing" stroke="#6dbb5a" stroke-width="0.07">Chtf8</text>
<circle cx="189.6" cy="287.2" r="1.0" fill="#e8b8c4"/>
<circle cx="189.6" cy="192" r="1.3" fill="#fff" stroke="#d8456a" stroke-width="0.6"/>
<circle cx="189.6" cy="279.2" r="1.2" fill="#fff" stroke="#6dbb5a" stroke-width="0.6"/>
<circle cx="189.6" cy="282.4" r="1.2" fill="#fff" stroke="#3b6aa0" stroke-width="0.6"/>
<circle cx="189.6" cy="294.6" r="1.3" fill="#fff" stroke="#6dbb5a" stroke-width="0.6"/>
<text x="191.8" y="194" font-size="5.82" fill="#d8456a" font-style="italic" textLength="10.4" lengthAdjust="spacing" stroke="#d8456a" stroke-width="0.07">Dck</text>
<text x="170.6" y="284.6" font-size="5.82" fill="#3b6aa0" font-style="italic" textLength="15.8" lengthAdjust="spacing" stroke="#3b6aa0" stroke-width="0.07">Herc1</text>
<text x="192.4" y="281.3" font-size="5.82" fill="#6dbb5a" font-style="italic" textLength="20" lengthAdjust="spacing" stroke="#6dbb5a" stroke-width="0.07">Samhd1</text>
<text x="192" y="296.6" font-size="5.82" fill="#6dbb5a" font-style="italic" textLength="10" lengthAdjust="spacing" stroke="#6dbb5a" stroke-width="0.07">Tti5</text>
<text transform="translate(24.9,243.9) rotate(-90)" text-anchor="middle" font-size="7.5" font-weight="bold" fill="#231f20" stroke="#231f20" stroke-width="0.15" textLength="32" lengthAdjust="spacingAndGlyphs">NormZ score</text>
<text x="86.8" y="314.3" font-size="7.9" fill="#231f20" text-anchor="middle" font-weight="bold" textLength="21" lengthAdjust="spacingAndGlyphs" stroke="#231f20" stroke-width="0.15">MA cells</text>
<text x="188.6" y="314.3" font-size="7.9" fill="#231f20" text-anchor="middle" font-weight="bold" textLength="21" lengthAdjust="spacingAndGlyphs" stroke="#231f20" stroke-width="0.15">HM cells</text>
<text x="244.4" y="167.9" font-size="10.6" fill="#111" font-weight="bold" textLength="7.66" lengthAdjust="spacingAndGlyphs" stroke="#111" stroke-width="0.45">C</text>
<circle cx="294.8" cy="226.6" r="39.7" fill="#cbd0e4"/>
<circle cx="333.2" cy="226.6" r="39.7" fill="#f6cbc5"/>
<clipPath id="clip294"><circle cx="294.8" cy="226.6" r="39.7"/></clipPath>
<circle cx="333.2" cy="226.6" r="39.7" fill="#c9a7b6" clip-path="url(#clip294)"/>
<circle cx="294.8" cy="226.6" r="39.7" fill="none" stroke="#3c4b7c" stroke-width="1.1"/>
<circle cx="333.2" cy="226.6" r="39.7" fill="none" stroke="#b42a4a" stroke-width="1.1"/>
<text x="277.5" y="228.9" font-size="6.76" fill="#222" text-anchor="middle" textLength="10.85" lengthAdjust="spacing" stroke="#222" stroke-width="0.07">343</text>
<text x="314.3" y="228.9" font-size="6.76" fill="#222" text-anchor="middle" textLength="6.75" lengthAdjust="spacing" stroke="#222" stroke-width="0.07">11</text>
<text x="356.3" y="228.9" font-size="6.76" fill="#222" text-anchor="middle" textLength="10.85" lengthAdjust="spacing" stroke="#222" stroke-width="0.07">400</text>
<text x="289.7" y="165" font-size="8.22" fill="#231f20" textLength="48.5" lengthAdjust="spacing" stroke="#231f20" stroke-width="0.15">Resistant arm</text>
<text x="294.5" y="175.1" font-size="6.66" fill="#3b6aa0" text-anchor="middle" textLength="9.6" lengthAdjust="spacing" stroke="#3b6aa0" stroke-width="0.07">MA</text>
<text x="294.5" y="182.5" font-size="6.66" fill="#3b6aa0" text-anchor="middle" textLength="14.94" lengthAdjust="spacing" stroke="#3b6aa0" stroke-width="0.07">(354)</text>
<text x="333.5" y="175.1" font-size="6.66" fill="#c8304c" text-anchor="middle" textLength="9.95" lengthAdjust="spacing" stroke="#c8304c" stroke-width="0.07">HM</text>
<text x="333.2" y="182.5" font-size="6.66" fill="#c8304c" text-anchor="middle" textLength="14.47" lengthAdjust="spacing" stroke="#c8304c" stroke-width="0.07">(411)</text>
<circle cx="424.1" cy="226.6" r="39.7" fill="#cbd0e4"/>
<circle cx="462.5" cy="226.6" r="39.7" fill="#f6cbc5"/>
<clipPath id="clip424"><circle cx="424.1" cy="226.6" r="39.7"/></clipPath>
<circle cx="462.5" cy="226.6" r="39.7" fill="#c9a7b6" clip-path="url(#clip424)"/>
<circle cx="424.1" cy="226.6" r="39.7" fill="none" stroke="#3c4b7c" stroke-width="1.1"/>
<circle cx="462.5" cy="226.6" r="39.7" fill="none" stroke="#b42a4a" stroke-width="1.1"/>
<text x="407.3" y="228.9" font-size="6.76" fill="#222" text-anchor="middle" textLength="10.85" lengthAdjust="spacing" stroke="#222" stroke-width="0.07">488</text>
<text x="444.5" y="228.9" font-size="6.76" fill="#222" text-anchor="middle" textLength="7.23" lengthAdjust="spacing" stroke="#222" stroke-width="0.07">39</text>
<text x="485.4" y="228.9" font-size="6.76" fill="#222" text-anchor="middle" textLength="10.85" lengthAdjust="spacing" stroke="#222" stroke-width="0.07">553</text>
<text x="416.7" y="165" font-size="8.22" fill="#231f20" textLength="53.9" lengthAdjust="spacing" stroke="#231f20" stroke-width="0.15">Sensitizing arm</text>
<text x="424.1" y="174.9" font-size="6.66" fill="#3b6aa0" text-anchor="middle" textLength="9.6" lengthAdjust="spacing" stroke="#3b6aa0" stroke-width="0.07">MA</text>
<text x="424.1" y="182.5" font-size="6.66" fill="#3b6aa0" text-anchor="middle" textLength="14.94" lengthAdjust="spacing" stroke="#3b6aa0" stroke-width="0.07">(527)</text>
<text x="462.5" y="174.9" font-size="6.66" fill="#c8304c" text-anchor="middle" textLength="9.95" lengthAdjust="spacing" stroke="#c8304c" stroke-width="0.07">HM</text>
<text x="462.4" y="182.5" font-size="6.66" fill="#c8304c" text-anchor="middle" textLength="14.94" lengthAdjust="spacing" stroke="#c8304c" stroke-width="0.07">(592)</text>
<text x="277.5" y="273.9" font-size="6.45" fill="#333" textLength="14.4" lengthAdjust="spacing" stroke="#333" stroke-width="0.07">Gene</text>
<text x="301.3" y="273.9" font-size="6.45" fill="#3b6aa0" textLength="28.5" lengthAdjust="spacing" stroke="#3b6aa0" stroke-width="0.07">MA NormZ</text>
<text x="333.8" y="273.9" font-size="6.45" fill="#c8304c" textLength="29.3" lengthAdjust="spacing" stroke="#c8304c" stroke-width="0.07">HM NormZ</text>
<line x1="277" y1="276.9" x2="365.5" y2="276.9" stroke="#3a3a3a" stroke-width="1.3"/>
<text x="277.5" y="284.2" font-size="6.55" fill="#333" font-style="italic" textLength="10.85" lengthAdjust="spacing" stroke="#333" stroke-width="0.07">Dck</text>
<text x="315.8" y="284.2" font-size="6.76" fill="#3b6aa0" text-anchor="middle" textLength="12.65" lengthAdjust="spacing" stroke="#3b6aa0" stroke-width="0.07">9.06</text>
<text x="349.5" y="284.2" font-size="6.76" fill="#c8304c" text-anchor="middle" textLength="12.65" lengthAdjust="spacing" stroke="#c8304c" stroke-width="0.07">5.17</text>
<text x="277.5" y="292.3" font-size="6.55" fill="#333" font-style="italic" textLength="19.96" lengthAdjust="spacing" stroke="#333" stroke-width="0.07">Dctpp1</text>
<text x="315.8" y="292.3" font-size="6.76" fill="#3b6aa0" text-anchor="middle" textLength="12.65" lengthAdjust="spacing" stroke="#3b6aa0" stroke-width="0.07">4.68</text>
<text x="349.5" y="292.3" font-size="6.76" fill="#c8304c" text-anchor="middle" textLength="12.65" lengthAdjust="spacing" stroke="#c8304c" stroke-width="0.07">2.91</text>
<text x="277.5" y="300.4" font-size="6.55" fill="#333" font-style="italic" textLength="12.95" lengthAdjust="spacing" stroke="#333" stroke-width="0.07">Dctd</text>
<text x="315.8" y="300.4" font-size="6.76" fill="#3b6aa0" text-anchor="middle" textLength="12.65" lengthAdjust="spacing" stroke="#3b6aa0" stroke-width="0.07">3.55</text>
<text x="349.5" y="300.4" font-size="6.76" fill="#c8304c" text-anchor="middle" textLength="12.65" lengthAdjust="spacing" stroke="#c8304c" stroke-width="0.07">3.46</text>
<text x="277.5" y="308.5" font-size="6.55" fill="#333" font-style="italic" textLength="19.85" lengthAdjust="spacing" stroke="#333" stroke-width="0.07">Cnot11</text>
<text x="315.8" y="308.5" font-size="6.76" fill="#3b6aa0" text-anchor="middle" textLength="12.65" lengthAdjust="spacing" stroke="#3b6aa0" stroke-width="0.07">3.39</text>
<text x="349.5" y="308.5" font-size="6.76" fill="#c8304c" text-anchor="middle" textLength="12.65" lengthAdjust="spacing" stroke="#c8304c" stroke-width="0.07">2.13</text>
<text x="277.5" y="316.6" font-size="6.55" fill="#333" font-style="italic" textLength="16.46" lengthAdjust="spacing" stroke="#333" stroke-width="0.07">Ctps2</text>
<text x="315.8" y="316.6" font-size="6.76" fill="#3b6aa0" text-anchor="middle" textLength="12.17" lengthAdjust="spacing" stroke="#3b6aa0" stroke-width="0.07">3.11</text>
<text x="349.5" y="316.6" font-size="6.76" fill="#c8304c" text-anchor="middle" textLength="12.65" lengthAdjust="spacing" stroke="#c8304c" stroke-width="0.07">2.29</text>
<text x="397.5" y="273.9" font-size="6.45" fill="#333" textLength="14.4" lengthAdjust="spacing" stroke="#333" stroke-width="0.07">Gene</text>
<text x="423" y="273.9" font-size="6.45" fill="#3b6aa0" textLength="28.5" lengthAdjust="spacing" stroke="#3b6aa0" stroke-width="0.07">MA NormZ</text>
<text x="455.8" y="273.9" font-size="6.45" fill="#c8304c" textLength="29.3" lengthAdjust="spacing" stroke="#c8304c" stroke-width="0.07">HM NormZ</text>
<line x1="396.3" y1="276.9" x2="487" y2="276.9" stroke="#3a3a3a" stroke-width="1.3"/>
<rect x="396.3" y="311.3" width="86.20" height="8.6" fill="#e2e2e6"/>
<text x="397.5" y="284.2" font-size="6.55" fill="#333" font-style="italic" textLength="15.06" lengthAdjust="spacing" stroke="#333" stroke-width="0.07">Chtf8</text>
<text x="437.5" y="284.2" font-size="6.76" fill="#3b6aa0" text-anchor="middle" textLength="16.45" lengthAdjust="spacing" stroke="#3b6aa0" stroke-width="0.07">−9.47</text>
<text x="470.2" y="284.2" font-size="6.76" fill="#c8304c" text-anchor="middle" textLength="16.45" lengthAdjust="spacing" stroke="#c8304c" stroke-width="0.07">−2.47</text>
<text x="397.5" y="292.3" font-size="6.55" fill="#333" font-style="italic" textLength="21.01" lengthAdjust="spacing" stroke="#333" stroke-width="0.07">Atxn7l3</text>
<text x="437.5" y="292.3" font-size="6.76" fill="#3b6aa0" text-anchor="middle" textLength="16.45" lengthAdjust="spacing" stroke="#3b6aa0" stroke-width="0.07">−8.32</text>
<text x="470.2" y="292.3" font-size="6.76" fill="#c8304c" text-anchor="middle" textLength="16.45" lengthAdjust="spacing" stroke="#c8304c" stroke-width="0.07">−2.19</text>
<text x="397.5" y="300.4" font-size="6.55" fill="#333" font-style="italic" textLength="23.47" lengthAdjust="spacing" stroke="#333" stroke-width="0.07">Samhd1</text>
<text x="437.5" y="300.4" font-size="6.76" fill="#3b6aa0" text-anchor="middle" textLength="7.41" lengthAdjust="spacing" stroke="#3b6aa0" stroke-width="0.07">−8</text>
<text x="470.2" y="300.4" font-size="6.76" fill="#c8304c" text-anchor="middle" textLength="16.45" lengthAdjust="spacing" stroke="#c8304c" stroke-width="0.07">−3.15</text>
<text x="397.5" y="308.5" font-size="6.55" fill="#333" font-style="italic" textLength="18.21" lengthAdjust="spacing" stroke="#333" stroke-width="0.07">Usp22</text>
<text x="437.5" y="308.5" font-size="6.76" fill="#3b6aa0" text-anchor="middle" textLength="7.41" lengthAdjust="spacing" stroke="#3b6aa0" stroke-width="0.07">−6</text>
<text x="470.2" y="308.5" font-size="6.76" fill="#c8304c" text-anchor="middle" textLength="16.45" lengthAdjust="spacing" stroke="#c8304c" stroke-width="0.07">−2.28</text>
<text x="397.5" y="316.6" font-size="6.55" fill="#333" font-style="italic" textLength="16.81" lengthAdjust="spacing" stroke="#333" stroke-width="0.07">Herc1</text>
<text x="437.5" y="316.6" font-size="6.76" fill="#3b6aa0" text-anchor="middle" textLength="16.45" lengthAdjust="spacing" stroke="#3b6aa0" stroke-width="0.07">−3.86</text>
<text x="470.2" y="316.6" font-size="6.76" fill="#c8304c" text-anchor="middle" textLength="16.45" lengthAdjust="spacing" stroke="#c8304c" stroke-width="0.07">−3.88</text>
<text x="6.3" y="344.2" font-size="10.6" fill="#111" font-weight="bold" textLength="8.8" lengthAdjust="spacingAndGlyphs" stroke="#111" stroke-width="0.45">D</text>
<text x="76.3" y="342.5" font-size="9.36" fill="#231f20" textLength="63.2" lengthAdjust="spacing" stroke="#231f20" stroke-width="0.15">KEGG Analysis</text>
<text x="54.5" y="352.5" font-size="8.32" fill="#231f20" textLength="106.7" lengthAdjust="spacing" stroke="#231f20" stroke-width="0.15">Common hits - sensitizing arm</text>
<rect x="17.5" y="358.0" width="181.30" height="9.00" fill="#c61f34"/>
<text x="20.0" y="364.7" font-size="6.24" fill="#fff" textLength="59.5" lengthAdjust="spacing" stroke="#fff" stroke-width="0.07">p53 signaling pathway</text>
<text x="202.10" y="364.80" font-size="6.4" fill="#333" textLength="28" lengthAdjust="spacingAndGlyphs"><tspan font-style="italic">P</tspan> = .0089</text>
<rect x="17.5" y="369.9" width="121.70" height="8.90" fill="#d45563"/>
<text x="20.0" y="376.5" font-size="6.24" fill="#fff" textLength="66" lengthAdjust="spacing" stroke="#fff" stroke-width="0.07">AMPK signaling pathway</text>
<text x="142.50" y="376.60" font-size="6.4" fill="#333" textLength="27.5" lengthAdjust="spacingAndGlyphs"><tspan font-style="italic">P</tspan> = .0229</text>
<rect x="17.5" y="381.2" width="115.50" height="8.80" fill="#f39a22"/>
<text x="20.0" y="387.7" font-size="6.24" fill="#222" textLength="25.7" lengthAdjust="spacing" stroke="#222" stroke-width="0.07">Cell cycle</text>
<text x="136.30" y="387.80" font-size="6.4" fill="#333" textLength="26.8" lengthAdjust="spacingAndGlyphs"><tspan font-style="italic">P</tspan> = .0243</text>
<rect x="17.5" y="393.0" width="76.30" height="8.80" fill="#f9c58e"/>
<text x="20.0" y="399.5" font-size="6.24" fill="#222" textLength="60" lengthAdjust="spacing" stroke="#222" stroke-width="0.07">Fatty acid biosynthesis</text>
<text x="97.10" y="399.60" font-size="6.4" fill="#333" textLength="28" lengthAdjust="spacingAndGlyphs"><tspan font-style="italic">P</tspan> = .0345</text>
<rect x="17.5" y="404.5" width="68.80" height="9.10" fill="#fcdab0"/>
<text x="20.0" y="411.3" font-size="6.24" fill="#222" textLength="53.7" lengthAdjust="spacing" stroke="#222" stroke-width="0.07">Cellular senescence</text>
<text x="89.60" y="411.40" font-size="6.4" fill="#333" textLength="27.5" lengthAdjust="spacingAndGlyphs"><tspan font-style="italic">P</tspan> = .0371</text>
<text x="244.5" y="343.8" font-size="10.6" fill="#111" font-weight="bold" textLength="7.07" lengthAdjust="spacingAndGlyphs" stroke="#111" stroke-width="0.45">E</text>
<text x="362.7" y="342.7" font-size="9.15" fill="#231f20" textLength="78" lengthAdjust="spacing" stroke="#231f20" stroke-width="0.15">Expression Profiling</text>
<text x="361.5" y="352" font-size="8.32" fill="#231f20" textLength="81" lengthAdjust="spacing" stroke="#231f20" stroke-width="0.15">Blood cancer cell lines</text>
<rect x="292.40" y="368.11" width="3.6" height="27.89" fill="#37a83c"/>
<line x1="294.20" y1="368.11" x2="294.20" y2="367.21" stroke="#333" stroke-width="0.5"/>
<line x1="293.40" y1="367.21" x2="295.00" y2="367.21" stroke="#333" stroke-width="0.6"/>
<line x1="294.20" y1="421.5" x2="294.20" y2="424.1" stroke="#222" stroke-width="0.9"/>
<text transform="translate(296.80,427.4) rotate(-90)" text-anchor="end" font-size="7.0" fill="#2a2a2a" textLength="17.15" lengthAdjust="spacingAndGlyphs">IKZF1</text>
<rect x="298.35" y="375.33" width="3.6" height="20.67" fill="#45ae45"/>
<line x1="300.15" y1="375.33" x2="300.15" y2="374.43" stroke="#333" stroke-width="0.5"/>
<line x1="299.35" y1="374.43" x2="300.95" y2="374.43" stroke="#333" stroke-width="0.6"/>
<line x1="300.15" y1="421.5" x2="300.15" y2="424.1" stroke="#222" stroke-width="0.9"/>
<text transform="translate(302.75,427.4) rotate(-90)" text-anchor="end" font-size="7.0" fill="#2a2a2a" textLength="28.71" lengthAdjust="spacingAndGlyphs">POU2AF1</text>
<rect x="304.31" y="383.05" width="3.6" height="12.95" fill="#1f6e48"/>
<line x1="306.11" y1="383.05" x2="306.11" y2="382.15" stroke="#333" stroke-width="0.5"/>
<line x1="305.31" y1="382.15" x2="306.91" y2="382.15" stroke="#333" stroke-width="0.6"/>
<line x1="306.11" y1="421.5" x2="306.11" y2="424.1" stroke="#222" stroke-width="0.9"/>
<text transform="translate(308.71,427.4) rotate(-90)" text-anchor="end" font-size="7.0" fill="#3fae86" textLength="21.35" lengthAdjust="spacingAndGlyphs">HERC1</text>
<rect x="310.26" y="385.29" width="3.6" height="10.71" fill="#48b048"/>
<line x1="312.06" y1="385.29" x2="312.06" y2="384.39" stroke="#333" stroke-width="0.5"/>
<line x1="311.26" y1="384.39" x2="312.86" y2="384.39" stroke="#333" stroke-width="0.6"/>
<line x1="312.06" y1="421.5" x2="312.06" y2="424.1" stroke="#222" stroke-width="0.9"/>
<text transform="translate(314.66,427.4) rotate(-90)" text-anchor="end" font-size="7.0" fill="#2a2a2a" textLength="17.85" lengthAdjust="spacingAndGlyphs">COPE</text>
<rect x="316.21" y="385.29" width="3.6" height="10.71" fill="#4ab24a"/>
<line x1="318.01" y1="385.29" x2="318.01" y2="384.39" stroke="#333" stroke-width="0.5"/>
<line x1="317.21" y1="384.39" x2="318.81" y2="384.39" stroke="#333" stroke-width="0.6"/>
<line x1="318.01" y1="421.5" x2="318.01" y2="424.1" stroke="#222" stroke-width="0.9"/>
<text transform="translate(320.61,427.4) rotate(-90)" text-anchor="end" font-size="7.0" fill="#2a2a2a" textLength="24.15" lengthAdjust="spacingAndGlyphs">MIDEAS</text>
<rect x="322.16" y="386.16" width="3.6" height="9.84" fill="#2a6d48"/>
<line x1="323.96" y1="386.16" x2="323.96" y2="385.26" stroke="#333" stroke-width="0.5"/>
<line x1="323.16" y1="385.26" x2="324.76" y2="385.26" stroke="#333" stroke-width="0.6"/>
<line x1="323.96" y1="421.5" x2="323.96" y2="424.1" stroke="#222" stroke-width="0.9"/>
<text transform="translate(326.56,427.4) rotate(-90)" text-anchor="end" font-size="7.0" fill="#2a2a2a" textLength="26.97" lengthAdjust="spacingAndGlyphs">CFAP410</text>
<rect x="328.12" y="386.16" width="3.6" height="9.84" fill="#58b855"/>
<line x1="329.92" y1="386.16" x2="329.92" y2="385.26" stroke="#333" stroke-width="0.5"/>
<line x1="329.12" y1="385.26" x2="330.72" y2="385.26" stroke="#333" stroke-width="0.6"/>
<line x1="329.92" y1="421.5" x2="329.92" y2="424.1" stroke="#222" stroke-width="0.9"/>
<text transform="translate(332.52,427.4) rotate(-90)" text-anchor="end" font-size="7.0" fill="#2a2a2a" textLength="26.85" lengthAdjust="spacingAndGlyphs">ATXN7L3</text>
<rect x="334.07" y="386.79" width="3.6" height="9.21" fill="#68bd62"/>
<line x1="335.87" y1="386.79" x2="335.87" y2="385.89" stroke="#333" stroke-width="0.5"/>
<line x1="335.07" y1="385.89" x2="336.67" y2="385.89" stroke="#333" stroke-width="0.6"/>
<line x1="335.87" y1="421.5" x2="335.87" y2="424.1" stroke="#222" stroke-width="0.9"/>
<text transform="translate(338.47,427.4) rotate(-90)" text-anchor="end" font-size="7.0" fill="#2a2a2a" textLength="15.76" lengthAdjust="spacingAndGlyphs">ZEB2</text>
<rect x="340.02" y="387.29" width="3.6" height="8.71" fill="#72c26a"/>
<line x1="341.82" y1="387.29" x2="341.82" y2="386.39" stroke="#333" stroke-width="0.5"/>
<line x1="341.02" y1="386.39" x2="342.62" y2="386.39" stroke="#333" stroke-width="0.6"/>
<line x1="341.82" y1="421.5" x2="341.82" y2="424.1" stroke="#222" stroke-width="0.9"/>
<text transform="translate(344.42,427.4) rotate(-90)" text-anchor="end" font-size="7.0" fill="#2a2a2a" textLength="19.60" lengthAdjust="spacingAndGlyphs">FDFT1</text>
<rect x="345.97" y="388.03" width="3.6" height="7.97" fill="#7ec775"/>
<line x1="347.77" y1="388.03" x2="347.77" y2="387.13" stroke="#333" stroke-width="0.5"/>
<line x1="346.97" y1="387.13" x2="348.57" y2="387.13" stroke="#333" stroke-width="0.6"/>
<line x1="347.77" y1="421.5" x2="347.77" y2="424.1" stroke="#222" stroke-width="0.9"/>
<text transform="translate(350.38,427.4) rotate(-90)" text-anchor="end" font-size="7.0" fill="#2a2a2a" textLength="17.50" lengthAdjust="spacingAndGlyphs">CCNF</text>
<rect x="351.93" y="388.78" width="3.6" height="7.22" fill="#8acc80"/>
<line x1="353.73" y1="388.78" x2="353.73" y2="387.88" stroke="#333" stroke-width="0.5"/>
<line x1="352.93" y1="387.88" x2="354.53" y2="387.88" stroke="#333" stroke-width="0.6"/>
<line x1="353.73" y1="421.5" x2="353.73" y2="424.1" stroke="#222" stroke-width="0.9"/>
<text transform="translate(356.33,427.4) rotate(-90)" text-anchor="end" font-size="7.0" fill="#2a2a2a" textLength="20.31" lengthAdjust="spacingAndGlyphs">CBLN3</text>
<rect x="357.88" y="389.77" width="3.6" height="6.22" fill="#96d18c"/>
<line x1="359.68" y1="389.77" x2="359.68" y2="388.88" stroke="#333" stroke-width="0.5"/>
<line x1="358.88" y1="388.88" x2="360.48" y2="388.88" stroke="#333" stroke-width="0.6"/>
<line x1="359.68" y1="421.5" x2="359.68" y2="424.1" stroke="#222" stroke-width="0.9"/>
<text transform="translate(362.28,427.4) rotate(-90)" text-anchor="end" font-size="7.0" fill="#2a2a2a" textLength="12.60" lengthAdjust="spacingAndGlyphs">UTY</text>
<rect x="363.83" y="390.27" width="3.6" height="5.73" fill="#a2d698"/>
<line x1="365.63" y1="390.27" x2="365.63" y2="389.37" stroke="#333" stroke-width="0.5"/>
<line x1="364.83" y1="389.37" x2="366.43" y2="389.37" stroke="#333" stroke-width="0.6"/>
<line x1="365.63" y1="421.5" x2="365.63" y2="424.1" stroke="#222" stroke-width="0.9"/>
<text transform="translate(368.23,427.4) rotate(-90)" text-anchor="end" font-size="7.0" fill="#2a2a2a" textLength="9.80" lengthAdjust="spacingAndGlyphs">KIT</text>
<rect x="369.79" y="390.77" width="3.6" height="5.23" fill="#aedca5"/>
<line x1="371.59" y1="390.77" x2="371.59" y2="389.87" stroke="#333" stroke-width="0.5"/>
<line x1="370.79" y1="389.87" x2="372.39" y2="389.87" stroke="#333" stroke-width="0.6"/>
<line x1="371.59" y1="421.5" x2="371.59" y2="424.1" stroke="#222" stroke-width="0.9"/>
<text transform="translate(374.19,427.4) rotate(-90)" text-anchor="end" font-size="7.0" fill="#2a2a2a" textLength="24.51" lengthAdjust="spacingAndGlyphs">MID1IP1</text>
<rect x="375.74" y="391.27" width="3.6" height="4.73" fill="#bae2b2"/>
<line x1="377.54" y1="391.27" x2="377.54" y2="390.37" stroke="#333" stroke-width="0.5"/>
<line x1="376.74" y1="390.37" x2="378.34" y2="390.37" stroke="#333" stroke-width="0.6"/>
<line x1="377.54" y1="421.5" x2="377.54" y2="424.1" stroke="#222" stroke-width="0.9"/>
<text transform="translate(380.14,427.4) rotate(-90)" text-anchor="end" font-size="7.0" fill="#2a2a2a" textLength="21.70" lengthAdjust="spacingAndGlyphs">TROAP</text>
<rect x="381.69" y="391.89" width="3.6" height="4.11" fill="#c6e8bf"/>
<line x1="383.49" y1="391.89" x2="383.49" y2="390.99" stroke="#333" stroke-width="0.5"/>
<line x1="382.69" y1="390.99" x2="384.29" y2="390.99" stroke="#333" stroke-width="0.6"/>
<line x1="383.49" y1="421.5" x2="383.49" y2="424.1" stroke="#222" stroke-width="0.9"/>
<text transform="translate(386.09,427.4) rotate(-90)" text-anchor="end" font-size="7.0" fill="#2a2a2a" textLength="16.46" lengthAdjust="spacingAndGlyphs">AUP1</text>
<rect x="387.64" y="392.64" width="3.6" height="3.36" fill="#e4f3e1"/>
<line x1="389.44" y1="392.64" x2="389.44" y2="391.74" stroke="#333" stroke-width="0.5"/>
<line x1="388.64" y1="391.74" x2="390.24" y2="391.74" stroke="#333" stroke-width="0.6"/>
<line x1="389.44" y1="421.5" x2="389.44" y2="424.1" stroke="#222" stroke-width="0.9"/>
<text transform="translate(392.04,427.4) rotate(-90)" text-anchor="end" font-size="7.0" fill="#2a2a2a" textLength="23.70" lengthAdjust="spacingAndGlyphs">RAB11B</text>
<rect x="393.60" y="393.01" width="3.6" height="2.99" fill="#eef8ec"/>
<line x1="395.40" y1="393.01" x2="395.40" y2="392.11" stroke="#333" stroke-width="0.5"/>
<line x1="394.60" y1="392.11" x2="396.20" y2="392.11" stroke="#333" stroke-width="0.6"/>
<line x1="395.40" y1="421.5" x2="395.40" y2="424.1" stroke="#222" stroke-width="0.9"/>
<text transform="translate(398.00,427.4) rotate(-90)" text-anchor="end" font-size="7.0" fill="#2a2a2a" textLength="19.96" lengthAdjust="spacingAndGlyphs">USP22</text>
<rect x="399.55" y="393.14" width="3.6" height="2.86" fill="#f2f9f0"/>
<line x1="401.35" y1="393.14" x2="401.35" y2="392.24" stroke="#333" stroke-width="0.5"/>
<line x1="400.55" y1="392.24" x2="402.15" y2="392.24" stroke="#333" stroke-width="0.6"/>
<line x1="401.35" y1="421.5" x2="401.35" y2="424.1" stroke="#222" stroke-width="0.9"/>
<text transform="translate(403.95,427.4) rotate(-90)" text-anchor="end" font-size="7.0" fill="#2a2a2a" textLength="19.84" lengthAdjust="spacingAndGlyphs">TADA3</text>
<rect x="405.50" y="393.26" width="3.6" height="2.74" fill="#f4faf3"/>
<line x1="407.30" y1="393.26" x2="407.30" y2="392.36" stroke="#333" stroke-width="0.5"/>
<line x1="406.50" y1="392.36" x2="408.10" y2="392.36" stroke="#333" stroke-width="0.6"/>
<line x1="407.30" y1="421.5" x2="407.30" y2="424.1" stroke="#222" stroke-width="0.9"/>
<text transform="translate(409.90,427.4) rotate(-90)" text-anchor="end" font-size="7.0" fill="#2a2a2a" textLength="20.30" lengthAdjust="spacingAndGlyphs">CHTF8</text>
<rect x="411.46" y="393.51" width="3.6" height="2.49" fill="#f6fbf5"/>
<line x1="413.26" y1="393.51" x2="413.26" y2="392.61" stroke="#333" stroke-width="0.5"/>
<line x1="412.46" y1="392.61" x2="414.06" y2="392.61" stroke="#333" stroke-width="0.6"/>
<line x1="413.26" y1="421.5" x2="413.26" y2="424.1" stroke="#222" stroke-width="0.9"/>
<text transform="translate(415.86,427.4) rotate(-90)" text-anchor="end" font-size="7.0" fill="#2a2a2a" textLength="24.39" lengthAdjust="spacingAndGlyphs">HEATR3</text>
<rect x="417.41" y="394.13" width="3.6" height="1.87" fill="#f8fcf7"/>
<line x1="419.21" y1="394.13" x2="419.21" y2="393.23" stroke="#333" stroke-width="0.5"/>
<line x1="418.41" y1="393.23" x2="420.01" y2="393.23" stroke="#333" stroke-width="0.6"/>
<line x1="419.21" y1="421.5" x2="419.21" y2="424.1" stroke="#222" stroke-width="0.9"/>
<text transform="translate(421.81,427.4) rotate(-90)" text-anchor="end" font-size="7.0" fill="#2a2a2a" textLength="21.35" lengthAdjust="spacingAndGlyphs">CCNE2</text>
<line x1="425.16" y1="397.49" x2="425.16" y2="398.39" stroke="#333" stroke-width="0.5"/>
<line x1="424.36" y1="398.39" x2="425.96" y2="398.39" stroke="#333" stroke-width="0.6"/>
<line x1="425.16" y1="421.5" x2="425.16" y2="424.1" stroke="#222" stroke-width="0.9"/>
<text transform="translate(427.76,427.4) rotate(-90)" text-anchor="end" font-size="7.0" fill="#2a2a2a" textLength="21.00" lengthAdjust="spacingAndGlyphs">PCGF1</text>
<line x1="431.11" y1="397.62" x2="431.11" y2="398.52" stroke="#333" stroke-width="0.5"/>
<line x1="430.31" y1="398.52" x2="431.91" y2="398.52" stroke="#333" stroke-width="0.6"/>
<line x1="431.11" y1="421.5" x2="431.11" y2="424.1" stroke="#222" stroke-width="0.9"/>
<text transform="translate(433.71,427.4) rotate(-90)" text-anchor="end" font-size="7.0" fill="#2a2a2a" textLength="26.26" lengthAdjust="spacingAndGlyphs">SAMHD1</text>
<line x1="437.07" y1="397.74" x2="437.07" y2="398.64" stroke="#333" stroke-width="0.5"/>
<line x1="436.27" y1="398.64" x2="437.87" y2="398.64" stroke="#333" stroke-width="0.6"/>
<line x1="437.07" y1="421.5" x2="437.07" y2="424.1" stroke="#222" stroke-width="0.9"/>
<text transform="translate(439.67,427.4) rotate(-90)" text-anchor="end" font-size="7.0" fill="#2a2a2a" textLength="16.45" lengthAdjust="spacingAndGlyphs">FASN</text>
<line x1="443.02" y1="397.74" x2="443.02" y2="398.64" stroke="#333" stroke-width="0.5"/>
<line x1="442.22" y1="398.64" x2="443.82" y2="398.64" stroke="#333" stroke-width="0.6"/>
<line x1="443.02" y1="421.5" x2="443.02" y2="424.1" stroke="#222" stroke-width="0.9"/>
<text transform="translate(445.62,427.4) rotate(-90)" text-anchor="end" font-size="7.0" fill="#2a2a2a" textLength="19.49" lengthAdjust="spacingAndGlyphs">ETAA1</text>
<line x1="448.97" y1="397.87" x2="448.97" y2="398.77" stroke="#333" stroke-width="0.5"/>
<line x1="448.17" y1="398.77" x2="449.77" y2="398.77" stroke="#333" stroke-width="0.6"/>
<line x1="448.97" y1="421.5" x2="448.97" y2="424.1" stroke="#222" stroke-width="0.9"/>
<text transform="translate(451.57,427.4) rotate(-90)" text-anchor="end" font-size="7.0" fill="#2a2a2a" textLength="17.16" lengthAdjust="spacingAndGlyphs">RGS2</text>
<line x1="454.93" y1="397.87" x2="454.93" y2="398.77" stroke="#333" stroke-width="0.5"/>
<line x1="454.12" y1="398.77" x2="455.73" y2="398.77" stroke="#333" stroke-width="0.6"/>
<line x1="454.93" y1="421.5" x2="454.93" y2="424.1" stroke="#222" stroke-width="0.9"/>
<text transform="translate(457.53,427.4) rotate(-90)" text-anchor="end" font-size="7.0" fill="#2a2a2a" textLength="29.41" lengthAdjust="spacingAndGlyphs">GADD45B</text>
<line x1="460.88" y1="397.99" x2="460.88" y2="398.89" stroke="#333" stroke-width="0.5"/>
<line x1="460.08" y1="398.89" x2="461.68" y2="398.89" stroke="#333" stroke-width="0.6"/>
<line x1="460.88" y1="421.5" x2="460.88" y2="424.1" stroke="#222" stroke-width="0.9"/>
<text transform="translate(463.48,427.4) rotate(-90)" text-anchor="end" font-size="7.0" fill="#2a2a2a" textLength="20.65" lengthAdjust="spacingAndGlyphs">EFCC1</text>
<rect x="465.03" y="396.00" width="3.6" height="3.11" fill="#f2b9b6"/>
<line x1="466.83" y1="399.11" x2="466.83" y2="400.01" stroke="#333" stroke-width="0.5"/>
<line x1="466.03" y1="400.01" x2="467.63" y2="400.01" stroke="#333" stroke-width="0.6"/>
<line x1="466.83" y1="421.5" x2="466.83" y2="424.1" stroke="#222" stroke-width="0.9"/>
<text transform="translate(469.43,427.4) rotate(-90)" text-anchor="end" font-size="7.0" fill="#2a2a2a" textLength="18.21" lengthAdjust="spacingAndGlyphs">TTLL5</text>
<rect x="470.98" y="396.00" width="3.6" height="3.11" fill="#f0b0ad"/>
<line x1="472.78" y1="399.11" x2="472.78" y2="400.01" stroke="#333" stroke-width="0.5"/>
<line x1="471.98" y1="400.01" x2="473.58" y2="400.01" stroke="#333" stroke-width="0.6"/>
<line x1="472.78" y1="421.5" x2="472.78" y2="424.1" stroke="#222" stroke-width="0.9"/>
<text transform="translate(475.38,427.4) rotate(-90)" text-anchor="end" font-size="7.0" fill="#2a2a2a" textLength="21.58" lengthAdjust="spacingAndGlyphs">FCGRT</text>
<rect x="476.94" y="396.00" width="3.6" height="3.73" fill="#eea6a3"/>
<line x1="478.74" y1="399.74" x2="478.74" y2="400.63" stroke="#333" stroke-width="0.5"/>
<line x1="477.94" y1="400.63" x2="479.54" y2="400.63" stroke="#333" stroke-width="0.6"/>
<line x1="478.74" y1="421.5" x2="478.74" y2="424.1" stroke="#222" stroke-width="0.9"/>
<text transform="translate(481.34,427.4) rotate(-90)" text-anchor="end" font-size="7.0" fill="#2a2a2a" textLength="16.80" lengthAdjust="spacingAndGlyphs">MTX2</text>
<rect x="482.89" y="396.00" width="3.6" height="3.73" fill="#eb9d99"/>
<line x1="484.69" y1="399.74" x2="484.69" y2="400.63" stroke="#333" stroke-width="0.5"/>
<line x1="483.89" y1="400.63" x2="485.49" y2="400.63" stroke="#333" stroke-width="0.6"/>
<line x1="484.69" y1="421.5" x2="484.69" y2="424.1" stroke="#222" stroke-width="0.9"/>
<text transform="translate(487.29,427.4) rotate(-90)" text-anchor="end" font-size="7.0" fill="#2a2a2a" textLength="18.91" lengthAdjust="spacingAndGlyphs">GRIP1</text>
<rect x="488.84" y="396.00" width="3.6" height="5.35" fill="#e7837f"/>
<line x1="490.64" y1="401.35" x2="490.64" y2="402.25" stroke="#333" stroke-width="0.5"/>
<line x1="489.84" y1="402.25" x2="491.44" y2="402.25" stroke="#333" stroke-width="0.6"/>
<line x1="490.64" y1="421.5" x2="490.64" y2="424.1" stroke="#222" stroke-width="0.9"/>
<text transform="translate(493.24,427.4) rotate(-90)" text-anchor="end" font-size="7.0" fill="#2a2a2a" textLength="15.64" lengthAdjust="spacingAndGlyphs">PAX3</text>
<rect x="494.79" y="396.00" width="3.6" height="7.22" fill="#e06b68"/>
<line x1="496.59" y1="403.22" x2="496.59" y2="404.12" stroke="#333" stroke-width="0.5"/>
<line x1="495.79" y1="404.12" x2="497.39" y2="404.12" stroke="#333" stroke-width="0.6"/>
<line x1="496.59" y1="421.5" x2="496.59" y2="424.1" stroke="#222" stroke-width="0.9"/>
<text transform="translate(499.19,427.4) rotate(-90)" text-anchor="end" font-size="7.0" fill="#2a2a2a" textLength="17.50" lengthAdjust="spacingAndGlyphs">DERA</text>
<rect x="500.75" y="396.00" width="3.6" height="9.96" fill="#d95350"/>
<line x1="502.55" y1="405.96" x2="502.55" y2="406.86" stroke="#333" stroke-width="0.5"/>
<line x1="501.75" y1="406.86" x2="503.35" y2="406.86" stroke="#333" stroke-width="0.6"/>
<line x1="502.55" y1="421.5" x2="502.55" y2="424.1" stroke="#222" stroke-width="0.9"/>
<text transform="translate(505.15,427.4) rotate(-90)" text-anchor="end" font-size="7.0" fill="#2a2a2a" textLength="17.50" lengthAdjust="spacingAndGlyphs">PRM2</text>
<rect x="506.70" y="396.00" width="3.6" height="13.94" fill="#d24045"/>
<line x1="508.50" y1="409.94" x2="508.50" y2="410.84" stroke="#333" stroke-width="0.5"/>
<line x1="507.70" y1="410.84" x2="509.30" y2="410.84" stroke="#333" stroke-width="0.6"/>
<line x1="508.50" y1="421.5" x2="508.50" y2="424.1" stroke="#222" stroke-width="0.9"/>
<text transform="translate(511.10,427.4) rotate(-90)" text-anchor="end" font-size="7.0" fill="#2a2a2a" textLength="26.26" lengthAdjust="spacingAndGlyphs">MANSC1</text>
<line x1="290.5" y1="395.7" x2="513.5" y2="395.7" stroke="#666" stroke-width="0.7"/>
<path d="M290.5,357.5 L513.5,357.5 L513.5,421.5 L290.5,421.5 Z" fill="none" stroke="#222" stroke-width="1"/>
<line x1="287.9" y1="358.65" x2="290.5" y2="358.65" stroke="#222" stroke-width="1"/>
<text x="285.1" y="360.75" font-size="6.24" fill="#333" text-anchor="end" textLength="3.34" lengthAdjust="spacing" stroke="#333" stroke-width="0.07">3</text>
<line x1="287.9" y1="371.10" x2="290.5" y2="371.10" stroke="#222" stroke-width="1"/>
<text x="285.1" y="373.20000000000005" font-size="6.24" fill="#333" text-anchor="end" textLength="3.34" lengthAdjust="spacing" stroke="#333" stroke-width="0.07">2</text>
<line x1="287.9" y1="383.55" x2="290.5" y2="383.55" stroke="#222" stroke-width="1"/>
<text x="285.1" y="385.65000000000003" font-size="6.24" fill="#333" text-anchor="end" textLength="3.34" lengthAdjust="spacing" stroke="#333" stroke-width="0.07">1</text>
<line x1="287.9" y1="396.00" x2="290.5" y2="396.00" stroke="#222" stroke-width="1"/>
<text x="285.1" y="398.1" font-size="6.24" fill="#333" text-anchor="end" textLength="3.34" lengthAdjust="spacing" stroke="#333" stroke-width="0.07">0</text>
<line x1="287.9" y1="408.45" x2="290.5" y2="408.45" stroke="#222" stroke-width="1"/>
<text x="285.1" y="410.55" font-size="6.24" fill="#333" text-anchor="end" textLength="6.84" lengthAdjust="spacing" stroke="#333" stroke-width="0.07">−1</text>
<line x1="287.9" y1="420.90" x2="290.5" y2="420.90" stroke="#222" stroke-width="1"/>
<text x="285.1" y="423.0" font-size="6.24" fill="#333" text-anchor="end" textLength="6.84" lengthAdjust="spacing" stroke="#333" stroke-width="0.07">−2</text>
<text transform="translate(261.9,389.8) rotate(-90)" text-anchor="middle" font-size="8.4" font-weight="bold" fill="#231f20" stroke="#231f20" stroke-width="0.15" textLength="19.2" lengthAdjust="spacingAndGlyphs">Relative</text>
<text transform="translate(271.9,390) rotate(-90)" text-anchor="middle" font-size="8.4" font-weight="bold" fill="#231f20" stroke="#231f20" stroke-width="0.15" textLength="39.5" lengthAdjust="spacingAndGlyphs">RNA expression</text>
<text x="401.8" y="466.8" font-size="8.63" fill="#231f20" text-anchor="middle" font-weight="bold" textLength="9.6" lengthAdjust="spacingAndGlyphs" stroke="#231f20" stroke-width="0.15">Hits</text>
<text x="7" y="494.4" font-size="10.6" fill="#111" font-weight="bold" textLength="6.47" lengthAdjust="spacingAndGlyphs" stroke="#111" stroke-width="0.45">F</text>
<text x="62" y="491.3" font-size="8.32" fill="#231f20" textLength="121.5" lengthAdjust="spacing" stroke="#231f20" stroke-width="0.15">CRISPR-based competition assay</text>
<circle cx="26.40" cy="557.50" r="6.3" fill="#f6f6f6" stroke="#808080" stroke-width="0.6"/>
<circle cx="25.90" cy="558.70" r="4.3" fill="#868a94" stroke="#444" stroke-width="0.5" stroke-opacity="0.55"/>
<circle cx="39.00" cy="553.20" r="6.3" fill="#f6f6f6" stroke="#808080" stroke-width="0.6"/>
<circle cx="38.50" cy="554.40" r="4.3" fill="#868a94" stroke="#444" stroke-width="0.5" stroke-opacity="0.55"/>
<circle cx="51.60" cy="550.70" r="6.3" fill="#f6f6f6" stroke="#808080" stroke-width="0.6"/>
<circle cx="51.10" cy="551.90" r="4.3" fill="#868a94" stroke="#444" stroke-width="0.5" stroke-opacity="0.55"/>
<circle cx="62.20" cy="559.80" r="6.3" fill="#f6f6f6" stroke="#808080" stroke-width="0.6"/>
<circle cx="61.70" cy="561.00" r="4.3" fill="#868a94" stroke="#444" stroke-width="0.5" stroke-opacity="0.55"/>
<circle cx="48.90" cy="562.90" r="6.3" fill="#f6f6f6" stroke="#808080" stroke-width="0.6"/>
<circle cx="48.40" cy="564.10" r="4.3" fill="#868a94" stroke="#444" stroke-width="0.5" stroke-opacity="0.55"/>
<circle cx="36.30" cy="566.90" r="6.3" fill="#f6f6f6" stroke="#808080" stroke-width="0.6"/>
<circle cx="35.80" cy="568.10" r="4.3" fill="#868a94" stroke="#444" stroke-width="0.5" stroke-opacity="0.55"/>
<circle cx="23.70" cy="569.30" r="6.3" fill="#f6f6f6" stroke="#808080" stroke-width="0.6"/>
<circle cx="23.20" cy="570.50" r="4.3" fill="#868a94" stroke="#444" stroke-width="0.5" stroke-opacity="0.55"/>
<circle cx="59.40" cy="572.10" r="6.3" fill="#f6f6f6" stroke="#808080" stroke-width="0.6"/>
<circle cx="58.90" cy="573.30" r="4.3" fill="#868a94" stroke="#444" stroke-width="0.5" stroke-opacity="0.55"/>
<circle cx="46.70" cy="575.90" r="6.3" fill="#f6f6f6" stroke="#808080" stroke-width="0.6"/>
<circle cx="46.20" cy="577.10" r="4.3" fill="#868a94" stroke="#444" stroke-width="0.5" stroke-opacity="0.55"/>
<circle cx="34.10" cy="579.10" r="6.3" fill="#f6f6f6" stroke="#808080" stroke-width="0.6"/>
<circle cx="33.60" cy="580.30" r="4.3" fill="#868a94" stroke="#444" stroke-width="0.5" stroke-opacity="0.55"/>
<circle cx="116.40" cy="558.40" r="6.3" fill="#f6f6f6" stroke="#808080" stroke-width="0.6"/>
<circle cx="115.90" cy="559.60" r="4.3" fill="#868a94" stroke="#444" stroke-width="0.5" stroke-opacity="0.55"/>
<circle cx="129.00" cy="554.10" r="6.3" fill="#ef9c86" stroke="#808080" stroke-width="0.6"/>
<circle cx="129.00" cy="554.80" r="4.1" fill="#868a94" stroke="#444" stroke-width="0.5" stroke-opacity="0.55"/>
<circle cx="141.60" cy="551.60" r="6.3" fill="#f6f6f6" stroke="#808080" stroke-width="0.6"/>
<circle cx="141.10" cy="552.80" r="4.3" fill="#868a94" stroke="#444" stroke-width="0.5" stroke-opacity="0.55"/>
<circle cx="152.20" cy="560.70" r="6.3" fill="#f6f6f6" stroke="#808080" stroke-width="0.6"/>
<circle cx="151.70" cy="561.90" r="4.3" fill="#868a94" stroke="#444" stroke-width="0.5" stroke-opacity="0.55"/>
<circle cx="138.90" cy="563.80" r="6.3" fill="#ef9c86" stroke="#808080" stroke-width="0.6"/>
<circle cx="138.90" cy="564.50" r="4.1" fill="#868a94" stroke="#444" stroke-width="0.5" stroke-opacity="0.55"/>
<circle cx="126.30" cy="567.80" r="6.3" fill="#ef9c86" stroke="#808080" stroke-width="0.6"/>
<circle cx="126.30" cy="568.50" r="4.1" fill="#868a94" stroke="#444" stroke-width="0.5" stroke-opacity="0.55"/>
<circle cx="113.70" cy="570.20" r="6.3" fill="#f6f6f6" stroke="#808080" stroke-width="0.6"/>
<circle cx="113.20" cy="571.40" r="4.3" fill="#868a94" stroke="#444" stroke-width="0.5" stroke-opacity="0.55"/>
<circle cx="149.40" cy="573.00" r="6.3" fill="#ef9c86" stroke="#808080" stroke-width="0.6"/>
<circle cx="149.40" cy="573.70" r="4.1" fill="#868a94" stroke="#444" stroke-width="0.5" stroke-opacity="0.55"/>
<circle cx="136.70" cy="576.80" r="6.3" fill="#f6f6f6" stroke="#808080" stroke-width="0.6"/>
<circle cx="136.20" cy="578.00" r="4.3" fill="#868a94" stroke="#444" stroke-width="0.5" stroke-opacity="0.55"/>
<circle cx="124.10" cy="580.00" r="6.3" fill="#ef9c86" stroke="#808080" stroke-width="0.6"/>
<circle cx="124.10" cy="580.70" r="4.1" fill="#868a94" stroke="#444" stroke-width="0.5" stroke-opacity="0.55"/>
<circle cx="186.80" cy="527.80" r="6.3" fill="#f6f6f6" stroke="#808080" stroke-width="0.6"/>
<circle cx="186.30" cy="529.00" r="4.3" fill="#868a94" stroke="#444" stroke-width="0.5" stroke-opacity="0.55"/>
<circle cx="199.40" cy="523.50" r="6.3" fill="#ef9c86" stroke="#808080" stroke-width="0.6"/>
<circle cx="199.40" cy="524.20" r="4.1" fill="#868a94" stroke="#444" stroke-width="0.5" stroke-opacity="0.55"/>
<circle cx="212.00" cy="521.00" r="6.3" fill="#f6f6f6" stroke="#808080" stroke-width="0.6"/>
<circle cx="211.50" cy="522.20" r="4.3" fill="#868a94" stroke="#444" stroke-width="0.5" stroke-opacity="0.55"/>
<circle cx="222.60" cy="530.10" r="6.3" fill="#f6f6f6" stroke="#808080" stroke-width="0.6"/>
<circle cx="222.10" cy="531.30" r="4.3" fill="#868a94" stroke="#444" stroke-width="0.5" stroke-opacity="0.55"/>
<circle cx="209.30" cy="533.20" r="6.3" fill="#ef9c86" stroke="#808080" stroke-width="0.6"/>
<circle cx="209.30" cy="533.90" r="4.1" fill="#868a94" stroke="#444" stroke-width="0.5" stroke-opacity="0.55"/>
<circle cx="196.70" cy="537.20" r="6.3" fill="#ef9c86" stroke="#808080" stroke-width="0.6"/>
<circle cx="196.70" cy="537.90" r="4.1" fill="#868a94" stroke="#444" stroke-width="0.5" stroke-opacity="0.55"/>
<circle cx="184.10" cy="539.60" r="6.3" fill="#f6f6f6" stroke="#808080" stroke-width="0.6"/>
<circle cx="183.60" cy="540.80" r="4.3" fill="#868a94" stroke="#444" stroke-width="0.5" stroke-opacity="0.55"/>
<circle cx="219.80" cy="542.40" r="6.3" fill="#ef9c86" stroke="#808080" stroke-width="0.6"/>
<circle cx="219.80" cy="543.10" r="4.1" fill="#868a94" stroke="#444" stroke-width="0.5" stroke-opacity="0.55"/>
<circle cx="207.10" cy="546.20" r="6.3" fill="#f6f6f6" stroke="#808080" stroke-width="0.6"/>
<circle cx="206.60" cy="547.40" r="4.3" fill="#868a94" stroke="#444" stroke-width="0.5" stroke-opacity="0.55"/>
<circle cx="194.50" cy="549.40" r="6.3" fill="#ef9c86" stroke="#808080" stroke-width="0.6"/>
<circle cx="194.50" cy="550.10" r="4.1" fill="#868a94" stroke="#444" stroke-width="0.5" stroke-opacity="0.55"/>
<circle cx="186.80" cy="587.00" r="6.3" fill="#f6f6f6" stroke="#808080" stroke-width="0.6"/>
<circle cx="186.30" cy="588.20" r="4.3" fill="#868a94" stroke="#444" stroke-width="0.5" stroke-opacity="0.55"/>
<circle cx="199.40" cy="582.70" r="6.3" fill="#f6f6f6" stroke="#808080" stroke-width="0.6"/>
<circle cx="198.90" cy="583.90" r="4.3" fill="#868a94" stroke="#444" stroke-width="0.5" stroke-opacity="0.55"/>
<circle cx="212.00" cy="580.20" r="6.3" fill="#f6f6f6" stroke="#808080" stroke-width="0.6"/>
<circle cx="211.50" cy="581.40" r="4.3" fill="#868a94" stroke="#444" stroke-width="0.5" stroke-opacity="0.55"/>
<circle cx="222.60" cy="589.30" r="6.3" fill="#f6f6f6" stroke="#808080" stroke-width="0.6"/>
<circle cx="222.10" cy="590.50" r="4.3" fill="#868a94" stroke="#444" stroke-width="0.5" stroke-opacity="0.55"/>
<circle cx="209.30" cy="592.40" r="6.3" fill="#f6f6f6" stroke="#808080" stroke-width="0.6"/>
<circle cx="208.80" cy="593.60" r="4.3" fill="#868a94" stroke="#444" stroke-width="0.5" stroke-opacity="0.55"/>
<circle cx="196.70" cy="596.40" r="6.3" fill="#ef9c86" stroke="#808080" stroke-width="0.6"/>
<circle cx="196.70" cy="597.10" r="4.1" fill="#868a94" stroke="#444" stroke-width="0.5" stroke-opacity="0.55"/>
<circle cx="184.10" cy="598.80" r="6.3" fill="#f6f6f6" stroke="#808080" stroke-width="0.6"/>
<circle cx="183.60" cy="600.00" r="4.3" fill="#868a94" stroke="#444" stroke-width="0.5" stroke-opacity="0.55"/>
<circle cx="219.80" cy="601.60" r="6.3" fill="#ef9c86" stroke="#808080" stroke-width="0.6"/>
<circle cx="219.80" cy="602.30" r="4.1" fill="#868a94" stroke="#444" stroke-width="0.5" stroke-opacity="0.55"/>
<circle cx="207.10" cy="605.40" r="6.3" fill="#f6f6f6" stroke="#808080" stroke-width="0.6"/>
<circle cx="206.60" cy="606.60" r="4.3" fill="#868a94" stroke="#444" stroke-width="0.5" stroke-opacity="0.55"/>
<circle cx="194.50" cy="608.60" r="6.3" fill="#f6f6f6" stroke="#808080" stroke-width="0.6"/>
<circle cx="194.00" cy="609.80" r="4.3" fill="#868a94" stroke="#444" stroke-width="0.5" stroke-opacity="0.55"/>
<text x="67.7" y="550.9" font-size="6.24" fill="#231f20" textLength="42.8" lengthAdjust="spacing" stroke="#231f20" stroke-width="0.07">mCherry-tagged</text>
<text x="79.3" y="558.1" font-size="6.24" fill="#231f20" textLength="18.5" lengthAdjust="spacing" stroke="#231f20" stroke-width="0.07">sgRNA</text>
<line x1="74.7" y1="564.2" x2="99.20" y2="564.20" stroke="#111" stroke-width="1.0"/>
<path d="M103.50,564.20 L99.20,566.30 L99.20,562.10Z" fill="#111"/>
<text x="74.7" y="574.4" font-size="6.24" fill="#231f20" textLength="28.6" lengthAdjust="spacing" stroke="#231f20" stroke-width="0.07">Puromycin</text>
<text x="77" y="581.2" font-size="6.24" fill="#231f20" textLength="23.2" lengthAdjust="spacing" stroke="#231f20" stroke-width="0.07">selection</text>
<text x="22.7" y="593.5" font-size="6.24" fill="#231f20" textLength="44.2" lengthAdjust="spacing" stroke="#231f20" stroke-width="0.07">Cas9-expressing</text>
<text x="18.8" y="600.6" font-size="6.24" fill="#231f20" textLength="53" lengthAdjust="spacing" stroke="#231f20" stroke-width="0.07">murine AML cell line</text>
<circle cx="164.5" cy="564.6" r="2.1" fill="#111"/>
<line x1="164.5" y1="564.6" x2="175.34" y2="553.84" stroke="#111" stroke-width="1.15"/>
<path d="M178.60,550.60 L176.96,555.47 L173.72,552.21Z" fill="#111"/>
<line x1="164.5" y1="564.6" x2="175.56" y2="575.04" stroke="#111" stroke-width="1.15"/>
<path d="M178.90,578.20 L173.98,576.71 L177.13,573.37Z" fill="#111"/>
<text x="189.6" y="501.8" font-size="6.55" fill="#231f20" textLength="29.3" lengthAdjust="spacing" stroke="#231f20" stroke-width="0.07">Essentiality</text>
<text x="194.9" y="509.0" font-size="6.55" fill="#231f20" textLength="19.2" lengthAdjust="spacing" stroke="#231f20" stroke-width="0.07">Vehicle</text>
<text x="196.5" y="623.5" font-size="6.55" fill="#231f20" textLength="15.7" lengthAdjust="spacing" stroke="#231f20" stroke-width="0.07">Ara-C</text>
<text x="185.3" y="630.5" font-size="6.55" fill="#231f20" textLength="37.5" lengthAdjust="spacing" stroke="#231f20" stroke-width="0.07">Chemo-fitness</text>
<text x="244.6" y="494.0" font-size="10.6" fill="#111" font-weight="bold" textLength="9.0" lengthAdjust="spacingAndGlyphs" stroke="#111" stroke-width="0.45">G</text>
<text x="316.7" y="490.8" font-size="8.11" fill="#231f20" textLength="25.1" lengthAdjust="spacing" stroke="#231f20" stroke-width="0.15">Vehicle</text>
<text x="437.3" y="490.4" font-size="8.11" fill="#231f20" textLength="21.2" lengthAdjust="spacing" stroke="#231f20" stroke-width="0.15">Ara-C</text>
<line x1="282.5" y1="496.88" x2="282.5" y2="591.5" stroke="#333" stroke-width="1.2"/>
<line x1="282.5" y1="591.5" x2="374.60" y2="591.5" stroke="#333" stroke-width="1.2"/>
<line x1="279.7" y1="591.50" x2="282.5" y2="591.50" stroke="#222" stroke-width="0.9"/>
<text x="277.2" y="593.6" font-size="6.14" fill="#333" text-anchor="end" textLength="3.28" lengthAdjust="spacing" stroke="#333" stroke-width="0.07">0</text>
<line x1="279.7" y1="573.17" x2="282.5" y2="573.17" stroke="#222" stroke-width="0.9"/>
<text x="277.2" y="575.275" font-size="6.14" fill="#333" text-anchor="end" textLength="8.2" lengthAdjust="spacing" stroke="#333" stroke-width="0.07">0.5</text>
<line x1="279.7" y1="554.85" x2="282.5" y2="554.85" stroke="#222" stroke-width="0.9"/>
<text x="277.2" y="556.95" font-size="6.14" fill="#333" text-anchor="end" textLength="8.2" lengthAdjust="spacing" stroke="#333" stroke-width="0.07">1.0</text>
<line x1="279.7" y1="536.52" x2="282.5" y2="536.52" stroke="#222" stroke-width="0.9"/>
<text x="277.2" y="538.625" font-size="6.14" fill="#333" text-anchor="end" textLength="8.2" lengthAdjust="spacing" stroke="#333" stroke-width="0.07">1.5</text>
<line x1="279.7" y1="518.20" x2="282.5" y2="518.20" stroke="#222" stroke-width="0.9"/>
<text x="277.2" y="520.3000000000001" font-size="6.14" fill="#333" text-anchor="end" textLength="8.2" lengthAdjust="spacing" stroke="#333" stroke-width="0.07">2.0</text>
<line x1="279.7" y1="499.88" x2="282.5" y2="499.88" stroke="#222" stroke-width="0.9"/>
<text x="277.2" y="501.975" font-size="6.14" fill="#333" text-anchor="end" textLength="8.2" lengthAdjust="spacing" stroke="#333" stroke-width="0.07">2.5</text>
<line x1="282.50" y1="591.5" x2="282.50" y2="594.1" stroke="#222" stroke-width="0.9"/>
<text x="282.5" y="602.7" font-size="6.14" fill="#333" text-anchor="middle" textLength="3.28" lengthAdjust="spacing" stroke="#333" stroke-width="0.07">0</text>
<line x1="300.80" y1="591.5" x2="300.80" y2="594.1" stroke="#222" stroke-width="0.9"/>
<text x="300.8" y="602.7" font-size="6.14" fill="#333" text-anchor="middle" textLength="3.28" lengthAdjust="spacing" stroke="#333" stroke-width="0.07">3</text>
<line x1="319.10" y1="591.5" x2="319.10" y2="594.1" stroke="#222" stroke-width="0.9"/>
<text x="319.1" y="602.7" font-size="6.14" fill="#333" text-anchor="middle" textLength="3.28" lengthAdjust="spacing" stroke="#333" stroke-width="0.07">6</text>
<line x1="337.40" y1="591.5" x2="337.40" y2="594.1" stroke="#222" stroke-width="0.9"/>
<text x="337.4" y="602.7" font-size="6.14" fill="#333" text-anchor="middle" textLength="3.28" lengthAdjust="spacing" stroke="#333" stroke-width="0.07">9</text>
<line x1="355.70" y1="591.5" x2="355.70" y2="594.1" stroke="#222" stroke-width="0.9"/>
<text x="355.7" y="602.7" font-size="6.14" fill="#333" text-anchor="middle" textLength="6.56" lengthAdjust="spacing" stroke="#333" stroke-width="0.07">12</text>
<line x1="374.00" y1="591.5" x2="374.00" y2="594.1" stroke="#222" stroke-width="0.9"/>
<text x="374.0" y="602.7" font-size="6.14" fill="#333" text-anchor="middle" textLength="6.56" lengthAdjust="spacing" stroke="#333" stroke-width="0.07">15</text>
<path d="M282.50,554.85 L294.70,557.05 L325.20,553.75 L343.50,558.51 L367.90,553.02" fill="none" stroke="#5e5e66" stroke-width="1.15"/>
<circle cx="282.50" cy="554.85" r="1.7" fill="#d2d2d6" stroke="#5e5e66" stroke-width="0.75"/>
<circle cx="294.70" cy="557.05" r="1.7" fill="#d2d2d6" stroke="#5e5e66" stroke-width="0.75"/>
<line x1="325.20" y1="550.09" x2="325.20" y2="557.42" stroke="#5e5e66" stroke-width="0.6"/>
<line x1="323.90" y1="550.09" x2="326.50" y2="550.09" stroke="#5e5e66" stroke-width="0.6"/>
<circle cx="325.20" cy="553.75" r="1.7" fill="#d2d2d6" stroke="#5e5e66" stroke-width="0.75"/>
<line x1="343.50" y1="556.32" x2="343.50" y2="560.71" stroke="#5e5e66" stroke-width="0.6"/>
<line x1="342.20" y1="556.32" x2="344.80" y2="556.32" stroke="#5e5e66" stroke-width="0.6"/>
<circle cx="343.50" cy="558.51" r="1.7" fill="#d2d2d6" stroke="#5e5e66" stroke-width="0.75"/>
<line x1="367.90" y1="549.35" x2="367.90" y2="556.68" stroke="#5e5e66" stroke-width="0.6"/>
<line x1="366.60" y1="549.35" x2="369.20" y2="549.35" stroke="#5e5e66" stroke-width="0.6"/>
<circle cx="367.90" cy="553.02" r="1.7" fill="#d2d2d6" stroke="#5e5e66" stroke-width="0.75"/>
<path d="M282.50,554.85 L294.70,556.68 L325.20,554.12 L343.50,557.78 L367.90,551.92" fill="none" stroke="#c8304c" stroke-width="1.15"/>
<rect x="280.80" y="553.15" width="3.4" height="3.4" fill="#fff" stroke="#c8304c" stroke-width="0.7"/>
<line x1="294.70" y1="555.58" x2="294.70" y2="557.78" stroke="#c8304c" stroke-width="0.6"/>
<line x1="293.40" y1="555.58" x2="296.00" y2="555.58" stroke="#c8304c" stroke-width="0.6"/>
<rect x="293.00" y="554.98" width="3.4" height="3.4" fill="#fff" stroke="#c8304c" stroke-width="0.7"/>
<line x1="325.20" y1="548.62" x2="325.20" y2="559.61" stroke="#c8304c" stroke-width="0.6"/>
<line x1="323.90" y1="548.62" x2="326.50" y2="548.62" stroke="#c8304c" stroke-width="0.6"/>
<rect x="323.50" y="552.42" width="3.4" height="3.4" fill="#fff" stroke="#c8304c" stroke-width="0.7"/>
<line x1="343.50" y1="554.12" x2="343.50" y2="561.45" stroke="#c8304c" stroke-width="0.6"/>
<line x1="342.20" y1="554.12" x2="344.80" y2="554.12" stroke="#c8304c" stroke-width="0.6"/>
<rect x="341.80" y="556.08" width="3.4" height="3.4" fill="#fff" stroke="#c8304c" stroke-width="0.7"/>
<line x1="367.90" y1="547.15" x2="367.90" y2="556.68" stroke="#c8304c" stroke-width="0.6"/>
<line x1="366.60" y1="547.15" x2="369.20" y2="547.15" stroke="#c8304c" stroke-width="0.6"/>
<rect x="366.20" y="550.22" width="3.4" height="3.4" fill="#fff" stroke="#c8304c" stroke-width="0.7"/>
<path d="M282.50,554.85 L294.70,560.71 L325.20,565.48 L343.50,566.94 L367.90,561.45" fill="none" stroke="#5bb450" stroke-width="1.15"/>
<path d="M282.50,552.85 L284.40,556.25 L280.60,556.25Z" fill="#fff" stroke="#5bb450" stroke-width="0.7"/>
<path d="M294.70,558.71 L296.60,562.11 L292.80,562.11Z" fill="#fff" stroke="#5bb450" stroke-width="0.7"/>
<path d="M325.20,563.48 L327.10,566.88 L323.30,566.88Z" fill="#fff" stroke="#5bb450" stroke-width="0.7"/>
<path d="M343.50,564.94 L345.40,568.34 L341.60,568.34Z" fill="#fff" stroke="#5bb450" stroke-width="0.7"/>
<path d="M367.90,559.45 L369.80,562.85 L366.00,562.85Z" fill="#fff" stroke="#5bb450" stroke-width="0.7"/>
<path d="M282.50,554.85 L294.70,557.42 L325.20,558.51 L343.50,560.35 L367.90,555.22" fill="none" stroke="#4aa8dc" stroke-width="1.15"/>
<path d="M282.50,556.85 L284.40,553.45 L280.60,553.45Z" fill="#fff" stroke="#4aa8dc" stroke-width="0.7"/>
<path d="M294.70,559.42 L296.60,556.02 L292.80,556.02Z" fill="#fff" stroke="#4aa8dc" stroke-width="0.7"/>
<path d="M325.20,560.51 L327.10,557.11 L323.30,557.11Z" fill="#fff" stroke="#4aa8dc" stroke-width="0.7"/>
<path d="M343.50,562.35 L345.40,558.95 L341.60,558.95Z" fill="#fff" stroke="#4aa8dc" stroke-width="0.7"/>
<path d="M367.90,557.22 L369.80,553.82 L366.00,553.82Z" fill="#fff" stroke="#4aa8dc" stroke-width="0.7"/>
<line x1="401.5" y1="496.88" x2="401.5" y2="591.5" stroke="#333" stroke-width="1.2"/>
<line x1="401.5" y1="591.5" x2="493.60" y2="591.5" stroke="#333" stroke-width="1.2"/>
<line x1="398.7" y1="591.50" x2="401.5" y2="591.50" stroke="#222" stroke-width="0.9"/>
<text x="396.2" y="593.6" font-size="6.14" fill="#333" text-anchor="end" textLength="3.28" lengthAdjust="spacing" stroke="#333" stroke-width="0.07">0</text>
<line x1="398.7" y1="573.17" x2="401.5" y2="573.17" stroke="#222" stroke-width="0.9"/>
<text x="396.2" y="575.275" font-size="6.14" fill="#333" text-anchor="end" textLength="8.2" lengthAdjust="spacing" stroke="#333" stroke-width="0.07">0.5</text>
<line x1="398.7" y1="554.85" x2="401.5" y2="554.85" stroke="#222" stroke-width="0.9"/>
<text x="396.2" y="556.95" font-size="6.14" fill="#333" text-anchor="end" textLength="8.2" lengthAdjust="spacing" stroke="#333" stroke-width="0.07">1.0</text>
<line x1="398.7" y1="536.52" x2="401.5" y2="536.52" stroke="#222" stroke-width="0.9"/>
<text x="396.2" y="538.625" font-size="6.14" fill="#333" text-anchor="end" textLength="8.2" lengthAdjust="spacing" stroke="#333" stroke-width="0.07">1.5</text>
<line x1="398.7" y1="518.20" x2="401.5" y2="518.20" stroke="#222" stroke-width="0.9"/>
<text x="396.2" y="520.3000000000001" font-size="6.14" fill="#333" text-anchor="end" textLength="8.2" lengthAdjust="spacing" stroke="#333" stroke-width="0.07">2.0</text>
<line x1="398.7" y1="499.88" x2="401.5" y2="499.88" stroke="#222" stroke-width="0.9"/>
<text x="396.2" y="501.975" font-size="6.14" fill="#333" text-anchor="end" textLength="8.2" lengthAdjust="spacing" stroke="#333" stroke-width="0.07">2.5</text>
<line x1="401.50" y1="591.5" x2="401.50" y2="594.1" stroke="#222" stroke-width="0.9"/>
<text x="401.5" y="602.7" font-size="6.14" fill="#333" text-anchor="middle" textLength="3.28" lengthAdjust="spacing" stroke="#333" stroke-width="0.07">0</text>
<line x1="419.80" y1="591.5" x2="419.80" y2="594.1" stroke="#222" stroke-width="0.9"/>
<text x="419.8" y="602.7" font-size="6.14" fill="#333" text-anchor="middle" textLength="3.28" lengthAdjust="spacing" stroke="#333" stroke-width="0.07">3</text>
<line x1="438.10" y1="591.5" x2="438.10" y2="594.1" stroke="#222" stroke-width="0.9"/>
<text x="438.1" y="602.7" font-size="6.14" fill="#333" text-anchor="middle" textLength="3.28" lengthAdjust="spacing" stroke="#333" stroke-width="0.07">6</text>
<line x1="456.40" y1="591.5" x2="456.40" y2="594.1" stroke="#222" stroke-width="0.9"/>
<text x="456.4" y="602.7" font-size="6.14" fill="#333" text-anchor="middle" textLength="3.28" lengthAdjust="spacing" stroke="#333" stroke-width="0.07">9</text>
<line x1="474.70" y1="591.5" x2="474.70" y2="594.1" stroke="#222" stroke-width="0.9"/>
<text x="474.7" y="602.7" font-size="6.14" fill="#333" text-anchor="middle" textLength="6.56" lengthAdjust="spacing" stroke="#333" stroke-width="0.07">12</text>
<line x1="493.00" y1="591.5" x2="493.00" y2="594.1" stroke="#222" stroke-width="0.9"/>
<text x="493.0" y="602.7" font-size="6.14" fill="#333" text-anchor="middle" textLength="6.56" lengthAdjust="spacing" stroke="#333" stroke-width="0.07">15</text>
<path d="M401.50,554.85 L425.90,549.17 L444.20,545.32 L456.40,544.59 L468.60,544.77 L480.80,543.12" fill="none" stroke="#6a6a72" stroke-width="1.15"/>
<circle cx="401.50" cy="554.85" r="1.7" fill="#d2d2d6" stroke="#6a6a72" stroke-width="0.75"/>
<circle cx="425.90" cy="549.17" r="1.7" fill="#d2d2d6" stroke="#6a6a72" stroke-width="0.75"/>
<circle cx="444.20" cy="545.32" r="1.7" fill="#d2d2d6" stroke="#6a6a72" stroke-width="0.75"/>
<circle cx="456.40" cy="544.59" r="1.7" fill="#d2d2d6" stroke="#6a6a72" stroke-width="0.75"/>
<circle cx="468.60" cy="544.77" r="1.7" fill="#d2d2d6" stroke="#6a6a72" stroke-width="0.75"/>
<circle cx="480.80" cy="543.12" r="1.7" fill="#d2d2d6" stroke="#6a6a72" stroke-width="0.75"/>
<path d="M401.50,554.85 L425.90,541.11 L444.20,515.63 L456.40,507.94 L468.60,505.01 L480.80,501.71" fill="none" stroke="#c8304c" stroke-width="1.15"/>
<rect x="399.80" y="553.15" width="3.4" height="3.4" fill="#fff" stroke="#c8304c" stroke-width="0.7"/>
<rect x="424.20" y="539.41" width="3.4" height="3.4" fill="#fff" stroke="#c8304c" stroke-width="0.7"/>
<rect x="442.50" y="513.93" width="3.4" height="3.4" fill="#fff" stroke="#c8304c" stroke-width="0.7"/>
<rect x="454.70" y="506.24" width="3.4" height="3.4" fill="#fff" stroke="#c8304c" stroke-width="0.7"/>
<rect x="466.90" y="503.31" width="3.4" height="3.4" fill="#fff" stroke="#c8304c" stroke-width="0.7"/>
<rect x="479.10" y="500.01" width="3.4" height="3.4" fill="#fff" stroke="#c8304c" stroke-width="0.7"/>
<path d="M401.50,554.85 L425.90,586.19 L444.20,588.57 L456.40,588.02 L468.60,590.03 L480.80,589.67" fill="none" stroke="#5bb450" stroke-width="1.15"/>
<path d="M401.50,552.85 L403.40,556.25 L399.60,556.25Z" fill="#fff" stroke="#5bb450" stroke-width="0.7"/>
<path d="M425.90,584.19 L427.80,587.59 L424.00,587.59Z" fill="#fff" stroke="#5bb450" stroke-width="0.7"/>
<path d="M444.20,586.57 L446.10,589.97 L442.30,589.97Z" fill="#fff" stroke="#5bb450" stroke-width="0.7"/>
<path d="M456.40,586.02 L458.30,589.42 L454.50,589.42Z" fill="#fff" stroke="#5bb450" stroke-width="0.7"/>
<path d="M468.60,588.03 L470.50,591.43 L466.70,591.43Z" fill="#fff" stroke="#5bb450" stroke-width="0.7"/>
<path d="M480.80,587.67 L482.70,591.07 L478.90,591.07Z" fill="#fff" stroke="#5bb450" stroke-width="0.7"/>
<path d="M401.50,554.85 L425.90,563.28 L444.20,571.71 L456.40,574.46 L468.60,579.77 L480.80,581.24" fill="none" stroke="#4aa8dc" stroke-width="1.15"/>
<path d="M401.50,556.85 L403.40,553.45 L399.60,553.45Z" fill="#fff" stroke="#4aa8dc" stroke-width="0.7"/>
<path d="M425.90,565.28 L427.80,561.88 L424.00,561.88Z" fill="#fff" stroke="#4aa8dc" stroke-width="0.7"/>
<path d="M444.20,573.71 L446.10,570.31 L442.30,570.31Z" fill="#fff" stroke="#4aa8dc" stroke-width="0.7"/>
<path d="M456.40,576.46 L458.30,573.06 L454.50,573.06Z" fill="#fff" stroke="#4aa8dc" stroke-width="0.7"/>
<path d="M468.60,581.77 L470.50,578.37 L466.70,578.37Z" fill="#fff" stroke="#4aa8dc" stroke-width="0.7"/>
<path d="M480.80,583.24 L482.70,579.84 L478.90,579.84Z" fill="#fff" stroke="#4aa8dc" stroke-width="0.7"/>
<text x="487.1" y="503.6" font-size="5.72" fill="#222" textLength="2.14" lengthAdjust="spacing" stroke="#222" stroke-width="0.07">*</text>
<text x="487.1" y="583.6999999999999" font-size="5.72" fill="#222" textLength="2.14" lengthAdjust="spacing" stroke="#222" stroke-width="0.07">*</text>
<text x="487.1" y="592.0" font-size="5.72" fill="#222" textLength="2.14" lengthAdjust="spacing" stroke="#222" stroke-width="0.07">*</text>
<text x="329.0" y="614.2" font-size="8.74" fill="#231f20" text-anchor="middle" font-weight="bold" textLength="21.8" lengthAdjust="spacingAndGlyphs" stroke="#231f20" stroke-width="0.15">Time (d)</text>
<text x="448.09999999999997" y="614.2" font-size="8.74" fill="#231f20" text-anchor="middle" font-weight="bold" textLength="21.8" lengthAdjust="spacingAndGlyphs" stroke="#231f20" stroke-width="0.15">Time (d)</text>
<text transform="translate(262.9,544.9) rotate(-90)" text-anchor="middle" font-size="8.0" font-weight="bold" fill="#231f20" stroke="#231f20" stroke-width="0.15" textLength="40.3" lengthAdjust="spacingAndGlyphs">Relative  fitness</text>
<line x1="303.8" y1="623.9" x2="316.6" y2="623.9" stroke="#6a6a72" stroke-width="1"/>
<circle cx="310.20" cy="623.90" r="2.1" fill="#d2d2d6" stroke="#6a6a72" stroke-width="0.75"/>
<text x="320.8" y="626.0" font-size="6.34" fill="#333" textLength="16.1" lengthAdjust="spacing" stroke="#333" stroke-width="0.07">sgCtrl</text>
<line x1="342.8" y1="623.9" x2="355.4" y2="623.9" stroke="#c8304c" stroke-width="1"/>
<rect x="347.00" y="621.80" width="4.2" height="4.2" fill="#fff" stroke="#c8304c" stroke-width="0.7"/>
<text x="359.2" y="626.0" font-size="6.34" fill="#333" textLength="16.2" lengthAdjust="spacing" stroke="#333" stroke-width="0.07">sgDck</text>
<line x1="381.7" y1="623.9" x2="394.6" y2="623.9" stroke="#5bb450" stroke-width="1"/>
<path d="M388.15,621.50 L390.45,625.70 L385.85,625.70Z" fill="#fff" stroke="#5bb450" stroke-width="0.7"/>
<text x="397.7" y="626.0" font-size="6.34" fill="#333" textLength="28.8" lengthAdjust="spacing" stroke="#333" stroke-width="0.07">sgSamhd1</text>
<line x1="432.7" y1="623.9" x2="446.2" y2="623.9" stroke="#4aa8dc" stroke-width="1"/>
<path d="M439.45,626.30 L441.75,622.10 L437.15,622.10Z" fill="#fff" stroke="#4aa8dc" stroke-width="0.7"/>
<text x="449.0" y="626.0" font-size="6.34" fill="#333" textLength="22.2" lengthAdjust="spacing" stroke="#333" stroke-width="0.07">sgHerc1</text>
<rect x="0.5" y="0.5" width="519" height="638" fill="none" stroke="#5c5c5c" stroke-width="1"/>
</svg>
</body></html>
